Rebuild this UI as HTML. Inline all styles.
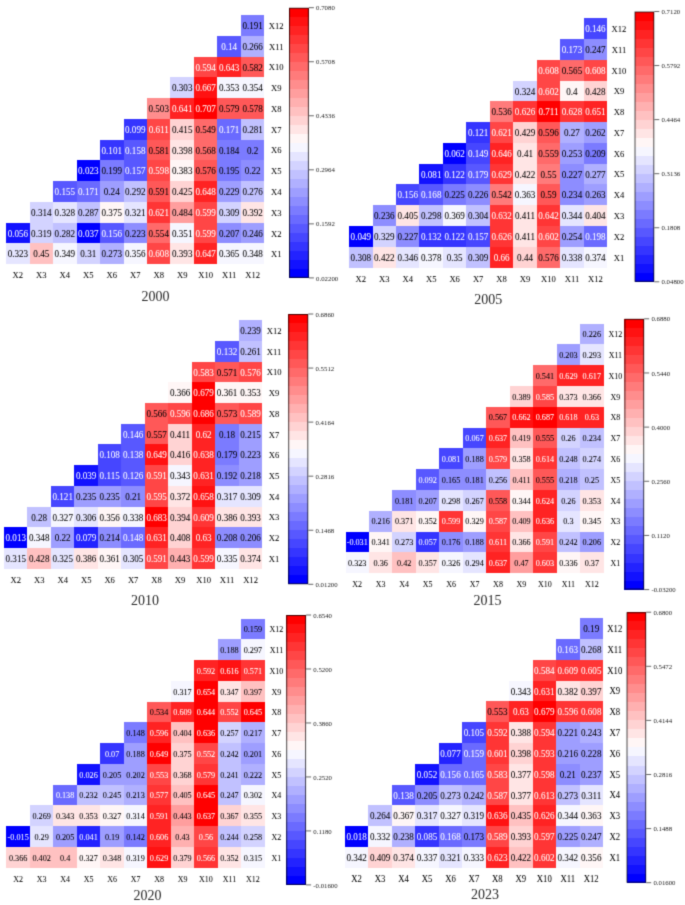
<!DOCTYPE html>
<html><head><meta charset="utf-8"><style>
html,body{margin:0;padding:0;background:#fff;}
body{width:685px;height:905px;overflow:hidden;font-family:"Liberation Serif",serif;}
svg{display:block;}
</style></head><body>
<svg width="685" height="905" viewBox="0 0 685 905"><defs><filter id="bl" x="0" y="0" width="100%" height="100%" filterUnits="userSpaceOnUse" color-interpolation-filters="sRGB"><feConvolveMatrix order="3" kernelMatrix="1 5.0 1 5.0 25.0 5.0 1 5.0 1" preserveAlpha="true" edgeMode="duplicate"/></filter></defs><g filter="url(#bl)"><rect width="685" height="905" fill="#fff"/><g shape-rendering="crispEdges"><rect x="240.90" y="15.10" width="23.48" height="20.76" fill="#7b7bff"/><rect x="217.42" y="35.86" width="23.48" height="20.76" fill="#5858ff"/><rect x="240.90" y="35.86" width="23.48" height="20.76" fill="#b0b0ff"/><rect x="193.94" y="56.62" width="23.48" height="20.76" fill="#ff4646"/><rect x="217.42" y="56.62" width="23.48" height="20.76" fill="#ff2323"/><rect x="240.90" y="56.62" width="23.48" height="20.76" fill="#ff5858"/><rect x="170.46" y="77.38" width="23.48" height="20.76" fill="#d3d3ff"/><rect x="193.94" y="77.38" width="23.48" height="20.76" fill="#ff1212"/><rect x="217.42" y="77.38" width="23.48" height="20.76" fill="#f6f6ff"/><rect x="240.90" y="77.38" width="23.48" height="20.76" fill="#f6f6ff"/><rect x="146.98" y="98.14" width="23.48" height="20.76" fill="#ff8d8d"/><rect x="170.46" y="98.14" width="23.48" height="20.76" fill="#ff2323"/><rect x="193.94" y="98.14" width="23.48" height="20.76" fill="#ff0000"/><rect x="217.42" y="98.14" width="23.48" height="20.76" fill="#ff5858"/><rect x="240.90" y="98.14" width="23.48" height="20.76" fill="#ff5858"/><rect x="123.50" y="118.90" width="23.48" height="20.76" fill="#3535ff"/><rect x="146.98" y="118.90" width="23.48" height="20.76" fill="#ff4646"/><rect x="170.46" y="118.90" width="23.48" height="20.76" fill="#ffd3d3"/><rect x="193.94" y="118.90" width="23.48" height="20.76" fill="#ff6a6a"/><rect x="217.42" y="118.90" width="23.48" height="20.76" fill="#6a6aff"/><rect x="240.90" y="118.90" width="23.48" height="20.76" fill="#c1c1ff"/><rect x="100.02" y="139.66" width="23.48" height="20.76" fill="#3535ff"/><rect x="123.50" y="139.66" width="23.48" height="20.76" fill="#5858ff"/><rect x="146.98" y="139.66" width="23.48" height="20.76" fill="#ff5858"/><rect x="170.46" y="139.66" width="23.48" height="20.76" fill="#ffe5e5"/><rect x="193.94" y="139.66" width="23.48" height="20.76" fill="#ff6a6a"/><rect x="217.42" y="139.66" width="23.48" height="20.76" fill="#7b7bff"/><rect x="240.90" y="139.66" width="23.48" height="20.76" fill="#7b7bff"/><rect x="76.54" y="160.42" width="23.48" height="20.76" fill="#0000ff"/><rect x="100.02" y="160.42" width="23.48" height="20.76" fill="#7b7bff"/><rect x="123.50" y="160.42" width="23.48" height="20.76" fill="#5858ff"/><rect x="146.98" y="160.42" width="23.48" height="20.76" fill="#ff4646"/><rect x="170.46" y="160.42" width="23.48" height="20.76" fill="#fff6f6"/><rect x="193.94" y="160.42" width="23.48" height="20.76" fill="#ff5858"/><rect x="217.42" y="160.42" width="23.48" height="20.76" fill="#7b7bff"/><rect x="240.90" y="160.42" width="23.48" height="20.76" fill="#8d8dff"/><rect x="53.06" y="181.18" width="23.48" height="20.76" fill="#5858ff"/><rect x="76.54" y="181.18" width="23.48" height="20.76" fill="#6a6aff"/><rect x="100.02" y="181.18" width="23.48" height="20.76" fill="#9e9eff"/><rect x="123.50" y="181.18" width="23.48" height="20.76" fill="#c1c1ff"/><rect x="146.98" y="181.18" width="23.48" height="20.76" fill="#ff5858"/><rect x="170.46" y="181.18" width="23.48" height="20.76" fill="#ffd3d3"/><rect x="193.94" y="181.18" width="23.48" height="20.76" fill="#ff2323"/><rect x="217.42" y="181.18" width="23.48" height="20.76" fill="#9e9eff"/><rect x="240.90" y="181.18" width="23.48" height="20.76" fill="#c1c1ff"/><rect x="29.58" y="201.94" width="23.48" height="20.76" fill="#d3d3ff"/><rect x="53.06" y="201.94" width="23.48" height="20.76" fill="#e5e5ff"/><rect x="76.54" y="201.94" width="23.48" height="20.76" fill="#c1c1ff"/><rect x="100.02" y="201.94" width="23.48" height="20.76" fill="#fff6f6"/><rect x="123.50" y="201.94" width="23.48" height="20.76" fill="#e5e5ff"/><rect x="146.98" y="201.94" width="23.48" height="20.76" fill="#ff3535"/><rect x="170.46" y="201.94" width="23.48" height="20.76" fill="#ff9e9e"/><rect x="193.94" y="201.94" width="23.48" height="20.76" fill="#ff4646"/><rect x="217.42" y="201.94" width="23.48" height="20.76" fill="#d3d3ff"/><rect x="240.90" y="201.94" width="23.48" height="20.76" fill="#ffe5e5"/><rect x="6.10" y="222.70" width="23.48" height="20.76" fill="#1212ff"/><rect x="29.58" y="222.70" width="23.48" height="20.76" fill="#d3d3ff"/><rect x="53.06" y="222.70" width="23.48" height="20.76" fill="#c1c1ff"/><rect x="76.54" y="222.70" width="23.48" height="20.76" fill="#0000ff"/><rect x="100.02" y="222.70" width="23.48" height="20.76" fill="#5858ff"/><rect x="123.50" y="222.70" width="23.48" height="20.76" fill="#8d8dff"/><rect x="146.98" y="222.70" width="23.48" height="20.76" fill="#ff6a6a"/><rect x="170.46" y="222.70" width="23.48" height="20.76" fill="#f6f6ff"/><rect x="193.94" y="222.70" width="23.48" height="20.76" fill="#ff4646"/><rect x="217.42" y="222.70" width="23.48" height="20.76" fill="#8d8dff"/><rect x="240.90" y="222.70" width="23.48" height="20.76" fill="#9e9eff"/><rect x="6.10" y="243.46" width="23.48" height="20.76" fill="#e5e5ff"/><rect x="29.58" y="243.46" width="23.48" height="20.76" fill="#ffc1c1"/><rect x="53.06" y="243.46" width="23.48" height="20.76" fill="#f6f6ff"/><rect x="76.54" y="243.46" width="23.48" height="20.76" fill="#d3d3ff"/><rect x="100.02" y="243.46" width="23.48" height="20.76" fill="#b0b0ff"/><rect x="123.50" y="243.46" width="23.48" height="20.76" fill="#f6f6ff"/><rect x="146.98" y="243.46" width="23.48" height="20.76" fill="#ff4646"/><rect x="170.46" y="243.46" width="23.48" height="20.76" fill="#ffe5e5"/><rect x="193.94" y="243.46" width="23.48" height="20.76" fill="#ff2323"/><rect x="217.42" y="243.46" width="23.48" height="20.76" fill="#f6f6ff"/><rect x="240.90" y="243.46" width="23.48" height="20.76" fill="#f6f6ff"/></g><g font-family="Liberation Serif" text-anchor="middle" stroke-width="0.05"><text transform="translate(252.64,29.09) scale(1,1.07)" fill="#000" stroke="#000" font-size="9.1">0.191</text><text transform="translate(229.16,49.85) scale(1,1.07)" fill="#fff" stroke="#fff" font-size="9.1">0.14</text><text transform="translate(252.64,49.85) scale(1,1.07)" fill="#000" stroke="#000" font-size="9.1">0.266</text><text transform="translate(205.68,70.61) scale(1,1.07)" fill="#fff" stroke="#fff" font-size="9.1">0.594</text><text transform="translate(229.16,70.61) scale(1,1.07)" fill="#fff" stroke="#fff" font-size="9.1">0.643</text><text transform="translate(252.64,70.61) scale(1,1.07)" fill="#000" stroke="#000" font-size="9.1">0.582</text><text transform="translate(182.20,91.37) scale(1,1.07)" fill="#000" stroke="#000" font-size="9.1">0.303</text><text transform="translate(205.68,91.37) scale(1,1.07)" fill="#fff" stroke="#fff" font-size="9.1">0.667</text><text transform="translate(229.16,91.37) scale(1,1.07)" fill="#000" stroke="#000" font-size="9.1">0.353</text><text transform="translate(252.64,91.37) scale(1,1.07)" fill="#000" stroke="#000" font-size="9.1">0.354</text><text transform="translate(158.72,112.13) scale(1,1.07)" fill="#000" stroke="#000" font-size="9.1">0.503</text><text transform="translate(182.20,112.13) scale(1,1.07)" fill="#fff" stroke="#fff" font-size="9.1">0.641</text><text transform="translate(205.68,112.13) scale(1,1.07)" fill="#fff" stroke="#fff" font-size="9.1">0.707</text><text transform="translate(229.16,112.13) scale(1,1.07)" fill="#000" stroke="#000" font-size="9.1">0.579</text><text transform="translate(252.64,112.13) scale(1,1.07)" fill="#000" stroke="#000" font-size="9.1">0.578</text><text transform="translate(135.24,132.89) scale(1,1.07)" fill="#fff" stroke="#fff" font-size="9.1">0.099</text><text transform="translate(158.72,132.89) scale(1,1.07)" fill="#fff" stroke="#fff" font-size="9.1">0.611</text><text transform="translate(182.20,132.89) scale(1,1.07)" fill="#000" stroke="#000" font-size="9.1">0.415</text><text transform="translate(205.68,132.89) scale(1,1.07)" fill="#000" stroke="#000" font-size="9.1">0.549</text><text transform="translate(229.16,132.89) scale(1,1.07)" fill="#fff" stroke="#fff" font-size="9.1">0.171</text><text transform="translate(252.64,132.89) scale(1,1.07)" fill="#000" stroke="#000" font-size="9.1">0.281</text><text transform="translate(111.76,153.65) scale(1,1.07)" fill="#fff" stroke="#fff" font-size="9.1">0.101</text><text transform="translate(135.24,153.65) scale(1,1.07)" fill="#fff" stroke="#fff" font-size="9.1">0.158</text><text transform="translate(158.72,153.65) scale(1,1.07)" fill="#000" stroke="#000" font-size="9.1">0.581</text><text transform="translate(182.20,153.65) scale(1,1.07)" fill="#000" stroke="#000" font-size="9.1">0.398</text><text transform="translate(205.68,153.65) scale(1,1.07)" fill="#000" stroke="#000" font-size="9.1">0.568</text><text transform="translate(229.16,153.65) scale(1,1.07)" fill="#000" stroke="#000" font-size="9.1">0.184</text><text transform="translate(252.64,153.65) scale(1,1.07)" fill="#000" stroke="#000" font-size="9.1">0.2</text><text transform="translate(88.28,174.41) scale(1,1.07)" fill="#fff" stroke="#fff" font-size="9.1">0.023</text><text transform="translate(111.76,174.41) scale(1,1.07)" fill="#000" stroke="#000" font-size="9.1">0.199</text><text transform="translate(135.24,174.41) scale(1,1.07)" fill="#fff" stroke="#fff" font-size="9.1">0.157</text><text transform="translate(158.72,174.41) scale(1,1.07)" fill="#fff" stroke="#fff" font-size="9.1">0.598</text><text transform="translate(182.20,174.41) scale(1,1.07)" fill="#000" stroke="#000" font-size="9.1">0.383</text><text transform="translate(205.68,174.41) scale(1,1.07)" fill="#000" stroke="#000" font-size="9.1">0.576</text><text transform="translate(229.16,174.41) scale(1,1.07)" fill="#000" stroke="#000" font-size="9.1">0.195</text><text transform="translate(252.64,174.41) scale(1,1.07)" fill="#000" stroke="#000" font-size="9.1">0.22</text><text transform="translate(64.80,195.17) scale(1,1.07)" fill="#fff" stroke="#fff" font-size="9.1">0.155</text><text transform="translate(88.28,195.17) scale(1,1.07)" fill="#fff" stroke="#fff" font-size="9.1">0.171</text><text transform="translate(111.76,195.17) scale(1,1.07)" fill="#000" stroke="#000" font-size="9.1">0.24</text><text transform="translate(135.24,195.17) scale(1,1.07)" fill="#000" stroke="#000" font-size="9.1">0.292</text><text transform="translate(158.72,195.17) scale(1,1.07)" fill="#000" stroke="#000" font-size="9.1">0.591</text><text transform="translate(182.20,195.17) scale(1,1.07)" fill="#000" stroke="#000" font-size="9.1">0.425</text><text transform="translate(205.68,195.17) scale(1,1.07)" fill="#fff" stroke="#fff" font-size="9.1">0.648</text><text transform="translate(229.16,195.17) scale(1,1.07)" fill="#000" stroke="#000" font-size="9.1">0.229</text><text transform="translate(252.64,195.17) scale(1,1.07)" fill="#000" stroke="#000" font-size="9.1">0.276</text><text transform="translate(41.32,215.93) scale(1,1.07)" fill="#000" stroke="#000" font-size="9.1">0.314</text><text transform="translate(64.80,215.93) scale(1,1.07)" fill="#000" stroke="#000" font-size="9.1">0.328</text><text transform="translate(88.28,215.93) scale(1,1.07)" fill="#000" stroke="#000" font-size="9.1">0.287</text><text transform="translate(111.76,215.93) scale(1,1.07)" fill="#000" stroke="#000" font-size="9.1">0.375</text><text transform="translate(135.24,215.93) scale(1,1.07)" fill="#000" stroke="#000" font-size="9.1">0.321</text><text transform="translate(158.72,215.93) scale(1,1.07)" fill="#fff" stroke="#fff" font-size="9.1">0.621</text><text transform="translate(182.20,215.93) scale(1,1.07)" fill="#000" stroke="#000" font-size="9.1">0.484</text><text transform="translate(205.68,215.93) scale(1,1.07)" fill="#fff" stroke="#fff" font-size="9.1">0.599</text><text transform="translate(229.16,215.93) scale(1,1.07)" fill="#000" stroke="#000" font-size="9.1">0.309</text><text transform="translate(252.64,215.93) scale(1,1.07)" fill="#000" stroke="#000" font-size="9.1">0.392</text><text transform="translate(17.84,236.69) scale(1,1.07)" fill="#fff" stroke="#fff" font-size="9.1">0.056</text><text transform="translate(41.32,236.69) scale(1,1.07)" fill="#000" stroke="#000" font-size="9.1">0.319</text><text transform="translate(64.80,236.69) scale(1,1.07)" fill="#000" stroke="#000" font-size="9.1">0.282</text><text transform="translate(88.28,236.69) scale(1,1.07)" fill="#fff" stroke="#fff" font-size="9.1">0.037</text><text transform="translate(111.76,236.69) scale(1,1.07)" fill="#fff" stroke="#fff" font-size="9.1">0.156</text><text transform="translate(135.24,236.69) scale(1,1.07)" fill="#000" stroke="#000" font-size="9.1">0.223</text><text transform="translate(158.72,236.69) scale(1,1.07)" fill="#000" stroke="#000" font-size="9.1">0.554</text><text transform="translate(182.20,236.69) scale(1,1.07)" fill="#000" stroke="#000" font-size="9.1">0.351</text><text transform="translate(205.68,236.69) scale(1,1.07)" fill="#fff" stroke="#fff" font-size="9.1">0.599</text><text transform="translate(229.16,236.69) scale(1,1.07)" fill="#000" stroke="#000" font-size="9.1">0.207</text><text transform="translate(252.64,236.69) scale(1,1.07)" fill="#000" stroke="#000" font-size="9.1">0.246</text><text transform="translate(17.84,257.45) scale(1,1.07)" fill="#000" stroke="#000" font-size="9.1">0.323</text><text transform="translate(41.32,257.45) scale(1,1.07)" fill="#000" stroke="#000" font-size="9.1">0.45</text><text transform="translate(64.80,257.45) scale(1,1.07)" fill="#000" stroke="#000" font-size="9.1">0.349</text><text transform="translate(88.28,257.45) scale(1,1.07)" fill="#000" stroke="#000" font-size="9.1">0.31</text><text transform="translate(111.76,257.45) scale(1,1.07)" fill="#000" stroke="#000" font-size="9.1">0.273</text><text transform="translate(135.24,257.45) scale(1,1.07)" fill="#000" stroke="#000" font-size="9.1">0.356</text><text transform="translate(158.72,257.45) scale(1,1.07)" fill="#fff" stroke="#fff" font-size="9.1">0.608</text><text transform="translate(182.20,257.45) scale(1,1.07)" fill="#000" stroke="#000" font-size="9.1">0.393</text><text transform="translate(205.68,257.45) scale(1,1.07)" fill="#fff" stroke="#fff" font-size="9.1">0.647</text><text transform="translate(229.16,257.45) scale(1,1.07)" fill="#000" stroke="#000" font-size="9.1">0.365</text><text transform="translate(252.64,257.45) scale(1,1.07)" fill="#000" stroke="#000" font-size="9.1">0.348</text></g><g font-family="Liberation Serif" text-anchor="middle" font-size="8.6" fill="#000" stroke="#000" stroke-width="0.03"><text transform="translate(276.18,28.91) scale(1,1.07)">X12</text><text transform="translate(276.18,49.67) scale(1,1.07)">X11</text><text transform="translate(276.18,70.43) scale(1,1.07)">X10</text><text transform="translate(276.18,91.19) scale(1,1.07)">X9</text><text transform="translate(276.18,111.95) scale(1,1.07)">X8</text><text transform="translate(276.18,132.71) scale(1,1.07)">X7</text><text transform="translate(276.18,153.47) scale(1,1.07)">X6</text><text transform="translate(276.18,174.23) scale(1,1.07)">X5</text><text transform="translate(276.18,194.99) scale(1,1.07)">X4</text><text transform="translate(276.18,215.75) scale(1,1.07)">X3</text><text transform="translate(276.18,236.51) scale(1,1.07)">X2</text><text transform="translate(276.18,257.27) scale(1,1.07)">X1</text><text transform="translate(17.84,278.45) scale(1,1.07)">X2</text><text transform="translate(41.32,278.45) scale(1,1.07)">X3</text><text transform="translate(64.80,278.45) scale(1,1.07)">X4</text><text transform="translate(88.28,278.45) scale(1,1.07)">X5</text><text transform="translate(111.76,278.45) scale(1,1.07)">X6</text><text transform="translate(135.24,278.45) scale(1,1.07)">X7</text><text transform="translate(158.72,278.45) scale(1,1.07)">X8</text><text transform="translate(182.20,278.45) scale(1,1.07)">X9</text><text transform="translate(205.68,278.45) scale(1,1.07)">X10</text><text transform="translate(229.16,278.45) scale(1,1.07)">X11</text><text transform="translate(252.64,278.45) scale(1,1.07)">X12</text></g><g shape-rendering="crispEdges"><rect x="289.00" y="268.89" width="19.90" height="9.03" fill="#0000ff"/><rect x="289.00" y="259.89" width="19.90" height="9.03" fill="#1212ff"/><rect x="289.00" y="250.88" width="19.90" height="9.03" fill="#2323ff"/><rect x="289.00" y="241.87" width="19.90" height="9.03" fill="#3535ff"/><rect x="289.00" y="232.87" width="19.90" height="9.03" fill="#4646ff"/><rect x="289.00" y="223.86" width="19.90" height="9.03" fill="#5858ff"/><rect x="289.00" y="214.85" width="19.90" height="9.03" fill="#6a6aff"/><rect x="289.00" y="205.85" width="19.90" height="9.03" fill="#7b7bff"/><rect x="289.00" y="196.84" width="19.90" height="9.03" fill="#8d8dff"/><rect x="289.00" y="187.83" width="19.90" height="9.03" fill="#9e9eff"/><rect x="289.00" y="178.83" width="19.90" height="9.03" fill="#b0b0ff"/><rect x="289.00" y="169.82" width="19.90" height="9.03" fill="#c1c1ff"/><rect x="289.00" y="160.81" width="19.90" height="9.03" fill="#d3d3ff"/><rect x="289.00" y="151.81" width="19.90" height="9.03" fill="#e5e5ff"/><rect x="289.00" y="142.80" width="19.90" height="9.03" fill="#f6f6ff"/><rect x="289.00" y="133.79" width="19.90" height="9.03" fill="#fff6f6"/><rect x="289.00" y="124.79" width="19.90" height="9.03" fill="#ffe5e5"/><rect x="289.00" y="115.78" width="19.90" height="9.03" fill="#ffd3d3"/><rect x="289.00" y="106.77" width="19.90" height="9.03" fill="#ffc1c1"/><rect x="289.00" y="97.77" width="19.90" height="9.03" fill="#ffb0b0"/><rect x="289.00" y="88.76" width="19.90" height="9.03" fill="#ff9e9e"/><rect x="289.00" y="79.75" width="19.90" height="9.03" fill="#ff8d8d"/><rect x="289.00" y="70.75" width="19.90" height="9.03" fill="#ff7b7b"/><rect x="289.00" y="61.74" width="19.90" height="9.03" fill="#ff6a6a"/><rect x="289.00" y="52.73" width="19.90" height="9.03" fill="#ff5858"/><rect x="289.00" y="43.73" width="19.90" height="9.03" fill="#ff4646"/><rect x="289.00" y="34.72" width="19.90" height="9.03" fill="#ff3535"/><rect x="289.00" y="25.71" width="19.90" height="9.03" fill="#ff2323"/><rect x="289.00" y="16.71" width="19.90" height="9.03" fill="#ff1212"/><rect x="289.00" y="7.70" width="19.90" height="9.03" fill="#ff0000"/></g><rect x="289.50" y="8.20" width="18.90" height="269.20" fill="none" stroke="#000" stroke-opacity="0.7" stroke-width="1"/><g font-family="Liberation Serif" font-size="6.8" fill="#222"><line x1="308.90" y1="7.70" x2="313.90" y2="7.70" stroke="#555" stroke-width="0.9"/><text transform="translate(316.10,10.31) scale(1,1.0)">0.7080</text><line x1="308.90" y1="61.74" x2="313.90" y2="61.74" stroke="#555" stroke-width="0.9"/><text transform="translate(316.10,64.35) scale(1,1.0)">0.5708</text><line x1="308.90" y1="115.78" x2="313.90" y2="115.78" stroke="#555" stroke-width="0.9"/><text transform="translate(316.10,118.39) scale(1,1.0)">0.4336</text><line x1="308.90" y1="169.82" x2="313.90" y2="169.82" stroke="#555" stroke-width="0.9"/><text transform="translate(316.10,172.43) scale(1,1.0)">0.2964</text><line x1="308.90" y1="223.86" x2="313.90" y2="223.86" stroke="#555" stroke-width="0.9"/><text transform="translate(316.10,226.47) scale(1,1.0)">0.1592</text><line x1="308.90" y1="277.90" x2="313.90" y2="277.90" stroke="#555" stroke-width="0.9"/><text transform="translate(316.10,280.51) scale(1,1.0)">0.02200</text></g><text x="155.40" y="300.86" font-family="Liberation Serif" font-size="14" text-anchor="middle" fill="#2a2a2a">2000</text><g shape-rendering="crispEdges"><rect x="583.70" y="18.20" width="23.46" height="20.78" fill="#4646ff"/><rect x="560.24" y="38.98" width="23.46" height="20.78" fill="#5858ff"/><rect x="583.70" y="38.98" width="23.46" height="20.78" fill="#8d8dff"/><rect x="536.78" y="59.76" width="23.46" height="20.78" fill="#ff4646"/><rect x="560.24" y="59.76" width="23.46" height="20.78" fill="#ff6a6a"/><rect x="583.70" y="59.76" width="23.46" height="20.78" fill="#ff4646"/><rect x="513.32" y="80.54" width="23.46" height="20.78" fill="#d3d3ff"/><rect x="536.78" y="80.54" width="23.46" height="20.78" fill="#ff4646"/><rect x="560.24" y="80.54" width="23.46" height="20.78" fill="#fff6f6"/><rect x="583.70" y="80.54" width="23.46" height="20.78" fill="#ffd3d3"/><rect x="489.86" y="101.32" width="23.46" height="20.78" fill="#ff7b7b"/><rect x="513.32" y="101.32" width="23.46" height="20.78" fill="#ff3535"/><rect x="536.78" y="101.32" width="23.46" height="20.78" fill="#ff0000"/><rect x="560.24" y="101.32" width="23.46" height="20.78" fill="#ff3535"/><rect x="583.70" y="101.32" width="23.46" height="20.78" fill="#ff2323"/><rect x="466.40" y="122.10" width="23.46" height="20.78" fill="#3535ff"/><rect x="489.86" y="122.10" width="23.46" height="20.78" fill="#ff4646"/><rect x="513.32" y="122.10" width="23.46" height="20.78" fill="#ffd3d3"/><rect x="536.78" y="122.10" width="23.46" height="20.78" fill="#ff5858"/><rect x="560.24" y="122.10" width="23.46" height="20.78" fill="#b0b0ff"/><rect x="583.70" y="122.10" width="23.46" height="20.78" fill="#9e9eff"/><rect x="442.94" y="142.88" width="23.46" height="20.78" fill="#0000ff"/><rect x="466.40" y="142.88" width="23.46" height="20.78" fill="#4646ff"/><rect x="489.86" y="142.88" width="23.46" height="20.78" fill="#ff2323"/><rect x="513.32" y="142.88" width="23.46" height="20.78" fill="#ffe5e5"/><rect x="536.78" y="142.88" width="23.46" height="20.78" fill="#ff6a6a"/><rect x="560.24" y="142.88" width="23.46" height="20.78" fill="#9e9eff"/><rect x="583.70" y="142.88" width="23.46" height="20.78" fill="#7b7bff"/><rect x="419.48" y="163.66" width="23.46" height="20.78" fill="#1212ff"/><rect x="442.94" y="163.66" width="23.46" height="20.78" fill="#3535ff"/><rect x="466.40" y="163.66" width="23.46" height="20.78" fill="#5858ff"/><rect x="489.86" y="163.66" width="23.46" height="20.78" fill="#ff3535"/><rect x="513.32" y="163.66" width="23.46" height="20.78" fill="#ffe5e5"/><rect x="536.78" y="163.66" width="23.46" height="20.78" fill="#ff7b7b"/><rect x="560.24" y="163.66" width="23.46" height="20.78" fill="#8d8dff"/><rect x="583.70" y="163.66" width="23.46" height="20.78" fill="#b0b0ff"/><rect x="396.02" y="184.44" width="23.46" height="20.78" fill="#4646ff"/><rect x="419.48" y="184.44" width="23.46" height="20.78" fill="#5858ff"/><rect x="442.94" y="184.44" width="23.46" height="20.78" fill="#7b7bff"/><rect x="466.40" y="184.44" width="23.46" height="20.78" fill="#8d8dff"/><rect x="489.86" y="184.44" width="23.46" height="20.78" fill="#ff7b7b"/><rect x="513.32" y="184.44" width="23.46" height="20.78" fill="#f6f6ff"/><rect x="536.78" y="184.44" width="23.46" height="20.78" fill="#ff5858"/><rect x="560.24" y="184.44" width="23.46" height="20.78" fill="#8d8dff"/><rect x="583.70" y="184.44" width="23.46" height="20.78" fill="#9e9eff"/><rect x="372.56" y="205.22" width="23.46" height="20.78" fill="#8d8dff"/><rect x="396.02" y="205.22" width="23.46" height="20.78" fill="#ffe5e5"/><rect x="419.48" y="205.22" width="23.46" height="20.78" fill="#c1c1ff"/><rect x="442.94" y="205.22" width="23.46" height="20.78" fill="#f6f6ff"/><rect x="466.40" y="205.22" width="23.46" height="20.78" fill="#c1c1ff"/><rect x="489.86" y="205.22" width="23.46" height="20.78" fill="#ff3535"/><rect x="513.32" y="205.22" width="23.46" height="20.78" fill="#ffe5e5"/><rect x="536.78" y="205.22" width="23.46" height="20.78" fill="#ff3535"/><rect x="560.24" y="205.22" width="23.46" height="20.78" fill="#e5e5ff"/><rect x="583.70" y="205.22" width="23.46" height="20.78" fill="#ffe5e5"/><rect x="349.10" y="226.00" width="23.46" height="20.78" fill="#0000ff"/><rect x="372.56" y="226.00" width="23.46" height="20.78" fill="#d3d3ff"/><rect x="396.02" y="226.00" width="23.46" height="20.78" fill="#8d8dff"/><rect x="419.48" y="226.00" width="23.46" height="20.78" fill="#3535ff"/><rect x="442.94" y="226.00" width="23.46" height="20.78" fill="#3535ff"/><rect x="466.40" y="226.00" width="23.46" height="20.78" fill="#4646ff"/><rect x="489.86" y="226.00" width="23.46" height="20.78" fill="#ff3535"/><rect x="513.32" y="226.00" width="23.46" height="20.78" fill="#ffe5e5"/><rect x="536.78" y="226.00" width="23.46" height="20.78" fill="#ff4646"/><rect x="560.24" y="226.00" width="23.46" height="20.78" fill="#9e9eff"/><rect x="583.70" y="226.00" width="23.46" height="20.78" fill="#6a6aff"/><rect x="349.10" y="246.78" width="23.46" height="20.78" fill="#c1c1ff"/><rect x="372.56" y="246.78" width="23.46" height="20.78" fill="#ffe5e5"/><rect x="396.02" y="246.78" width="23.46" height="20.78" fill="#e5e5ff"/><rect x="419.48" y="246.78" width="23.46" height="20.78" fill="#f6f6ff"/><rect x="442.94" y="246.78" width="23.46" height="20.78" fill="#e5e5ff"/><rect x="466.40" y="246.78" width="23.46" height="20.78" fill="#c1c1ff"/><rect x="489.86" y="246.78" width="23.46" height="20.78" fill="#ff2323"/><rect x="513.32" y="246.78" width="23.46" height="20.78" fill="#ffd3d3"/><rect x="536.78" y="246.78" width="23.46" height="20.78" fill="#ff6a6a"/><rect x="560.24" y="246.78" width="23.46" height="20.78" fill="#e5e5ff"/><rect x="583.70" y="246.78" width="23.46" height="20.78" fill="#f6f6ff"/></g><g font-family="Liberation Serif" text-anchor="middle" stroke-width="0.05"><text transform="translate(595.43,32.20) scale(1,1.07)" fill="#fff" stroke="#fff" font-size="9.1">0.146</text><text transform="translate(571.97,52.98) scale(1,1.07)" fill="#fff" stroke="#fff" font-size="9.1">0.173</text><text transform="translate(595.43,52.98) scale(1,1.07)" fill="#000" stroke="#000" font-size="9.1">0.247</text><text transform="translate(548.51,73.76) scale(1,1.07)" fill="#fff" stroke="#fff" font-size="9.1">0.608</text><text transform="translate(571.97,73.76) scale(1,1.07)" fill="#000" stroke="#000" font-size="9.1">0.565</text><text transform="translate(595.43,73.76) scale(1,1.07)" fill="#fff" stroke="#fff" font-size="9.1">0.608</text><text transform="translate(525.05,94.54) scale(1,1.07)" fill="#000" stroke="#000" font-size="9.1">0.324</text><text transform="translate(548.51,94.54) scale(1,1.07)" fill="#fff" stroke="#fff" font-size="9.1">0.602</text><text transform="translate(571.97,94.54) scale(1,1.07)" fill="#000" stroke="#000" font-size="9.1">0.4</text><text transform="translate(595.43,94.54) scale(1,1.07)" fill="#000" stroke="#000" font-size="9.1">0.428</text><text transform="translate(501.59,115.32) scale(1,1.07)" fill="#000" stroke="#000" font-size="9.1">0.536</text><text transform="translate(525.05,115.32) scale(1,1.07)" fill="#fff" stroke="#fff" font-size="9.1">0.626</text><text transform="translate(548.51,115.32) scale(1,1.07)" fill="#fff" stroke="#fff" font-size="9.1">0.711</text><text transform="translate(571.97,115.32) scale(1,1.07)" fill="#fff" stroke="#fff" font-size="9.1">0.628</text><text transform="translate(595.43,115.32) scale(1,1.07)" fill="#fff" stroke="#fff" font-size="9.1">0.651</text><text transform="translate(478.13,136.10) scale(1,1.07)" fill="#fff" stroke="#fff" font-size="9.1">0.121</text><text transform="translate(501.59,136.10) scale(1,1.07)" fill="#fff" stroke="#fff" font-size="9.1">0.621</text><text transform="translate(525.05,136.10) scale(1,1.07)" fill="#000" stroke="#000" font-size="9.1">0.429</text><text transform="translate(548.51,136.10) scale(1,1.07)" fill="#000" stroke="#000" font-size="9.1">0.596</text><text transform="translate(571.97,136.10) scale(1,1.07)" fill="#000" stroke="#000" font-size="9.1">0.27</text><text transform="translate(595.43,136.10) scale(1,1.07)" fill="#000" stroke="#000" font-size="9.1">0.262</text><text transform="translate(454.67,156.88) scale(1,1.07)" fill="#fff" stroke="#fff" font-size="9.1">0.062</text><text transform="translate(478.13,156.88) scale(1,1.07)" fill="#fff" stroke="#fff" font-size="9.1">0.149</text><text transform="translate(501.59,156.88) scale(1,1.07)" fill="#fff" stroke="#fff" font-size="9.1">0.646</text><text transform="translate(525.05,156.88) scale(1,1.07)" fill="#000" stroke="#000" font-size="9.1">0.41</text><text transform="translate(548.51,156.88) scale(1,1.07)" fill="#000" stroke="#000" font-size="9.1">0.559</text><text transform="translate(571.97,156.88) scale(1,1.07)" fill="#000" stroke="#000" font-size="9.1">0.253</text><text transform="translate(595.43,156.88) scale(1,1.07)" fill="#000" stroke="#000" font-size="9.1">0.209</text><text transform="translate(431.21,177.66) scale(1,1.07)" fill="#fff" stroke="#fff" font-size="9.1">0.081</text><text transform="translate(454.67,177.66) scale(1,1.07)" fill="#fff" stroke="#fff" font-size="9.1">0.122</text><text transform="translate(478.13,177.66) scale(1,1.07)" fill="#fff" stroke="#fff" font-size="9.1">0.179</text><text transform="translate(501.59,177.66) scale(1,1.07)" fill="#fff" stroke="#fff" font-size="9.1">0.629</text><text transform="translate(525.05,177.66) scale(1,1.07)" fill="#000" stroke="#000" font-size="9.1">0.422</text><text transform="translate(548.51,177.66) scale(1,1.07)" fill="#000" stroke="#000" font-size="9.1">0.55</text><text transform="translate(571.97,177.66) scale(1,1.07)" fill="#000" stroke="#000" font-size="9.1">0.227</text><text transform="translate(595.43,177.66) scale(1,1.07)" fill="#000" stroke="#000" font-size="9.1">0.277</text><text transform="translate(407.75,198.44) scale(1,1.07)" fill="#fff" stroke="#fff" font-size="9.1">0.156</text><text transform="translate(431.21,198.44) scale(1,1.07)" fill="#fff" stroke="#fff" font-size="9.1">0.168</text><text transform="translate(454.67,198.44) scale(1,1.07)" fill="#000" stroke="#000" font-size="9.1">0.225</text><text transform="translate(478.13,198.44) scale(1,1.07)" fill="#000" stroke="#000" font-size="9.1">0.226</text><text transform="translate(501.59,198.44) scale(1,1.07)" fill="#000" stroke="#000" font-size="9.1">0.542</text><text transform="translate(525.05,198.44) scale(1,1.07)" fill="#000" stroke="#000" font-size="9.1">0.363</text><text transform="translate(548.51,198.44) scale(1,1.07)" fill="#000" stroke="#000" font-size="9.1">0.59</text><text transform="translate(571.97,198.44) scale(1,1.07)" fill="#000" stroke="#000" font-size="9.1">0.234</text><text transform="translate(595.43,198.44) scale(1,1.07)" fill="#000" stroke="#000" font-size="9.1">0.263</text><text transform="translate(384.29,219.22) scale(1,1.07)" fill="#000" stroke="#000" font-size="9.1">0.236</text><text transform="translate(407.75,219.22) scale(1,1.07)" fill="#000" stroke="#000" font-size="9.1">0.405</text><text transform="translate(431.21,219.22) scale(1,1.07)" fill="#000" stroke="#000" font-size="9.1">0.298</text><text transform="translate(454.67,219.22) scale(1,1.07)" fill="#000" stroke="#000" font-size="9.1">0.369</text><text transform="translate(478.13,219.22) scale(1,1.07)" fill="#000" stroke="#000" font-size="9.1">0.304</text><text transform="translate(501.59,219.22) scale(1,1.07)" fill="#fff" stroke="#fff" font-size="9.1">0.632</text><text transform="translate(525.05,219.22) scale(1,1.07)" fill="#000" stroke="#000" font-size="9.1">0.411</text><text transform="translate(548.51,219.22) scale(1,1.07)" fill="#fff" stroke="#fff" font-size="9.1">0.642</text><text transform="translate(571.97,219.22) scale(1,1.07)" fill="#000" stroke="#000" font-size="9.1">0.344</text><text transform="translate(595.43,219.22) scale(1,1.07)" fill="#000" stroke="#000" font-size="9.1">0.404</text><text transform="translate(360.83,240.00) scale(1,1.07)" fill="#fff" stroke="#fff" font-size="9.1">0.049</text><text transform="translate(384.29,240.00) scale(1,1.07)" fill="#000" stroke="#000" font-size="9.1">0.329</text><text transform="translate(407.75,240.00) scale(1,1.07)" fill="#000" stroke="#000" font-size="9.1">0.227</text><text transform="translate(431.21,240.00) scale(1,1.07)" fill="#fff" stroke="#fff" font-size="9.1">0.132</text><text transform="translate(454.67,240.00) scale(1,1.07)" fill="#fff" stroke="#fff" font-size="9.1">0.122</text><text transform="translate(478.13,240.00) scale(1,1.07)" fill="#fff" stroke="#fff" font-size="9.1">0.157</text><text transform="translate(501.59,240.00) scale(1,1.07)" fill="#fff" stroke="#fff" font-size="9.1">0.626</text><text transform="translate(525.05,240.00) scale(1,1.07)" fill="#000" stroke="#000" font-size="9.1">0.411</text><text transform="translate(548.51,240.00) scale(1,1.07)" fill="#fff" stroke="#fff" font-size="9.1">0.602</text><text transform="translate(571.97,240.00) scale(1,1.07)" fill="#000" stroke="#000" font-size="9.1">0.254</text><text transform="translate(595.43,240.00) scale(1,1.07)" fill="#fff" stroke="#fff" font-size="9.1">0.198</text><text transform="translate(360.83,260.78) scale(1,1.07)" fill="#000" stroke="#000" font-size="9.1">0.308</text><text transform="translate(384.29,260.78) scale(1,1.07)" fill="#000" stroke="#000" font-size="9.1">0.422</text><text transform="translate(407.75,260.78) scale(1,1.07)" fill="#000" stroke="#000" font-size="9.1">0.346</text><text transform="translate(431.21,260.78) scale(1,1.07)" fill="#000" stroke="#000" font-size="9.1">0.378</text><text transform="translate(454.67,260.78) scale(1,1.07)" fill="#000" stroke="#000" font-size="9.1">0.35</text><text transform="translate(478.13,260.78) scale(1,1.07)" fill="#000" stroke="#000" font-size="9.1">0.309</text><text transform="translate(501.59,260.78) scale(1,1.07)" fill="#fff" stroke="#fff" font-size="9.1">0.66</text><text transform="translate(525.05,260.78) scale(1,1.07)" fill="#000" stroke="#000" font-size="9.1">0.44</text><text transform="translate(548.51,260.78) scale(1,1.07)" fill="#000" stroke="#000" font-size="9.1">0.576</text><text transform="translate(571.97,260.78) scale(1,1.07)" fill="#000" stroke="#000" font-size="9.1">0.338</text><text transform="translate(595.43,260.78) scale(1,1.07)" fill="#000" stroke="#000" font-size="9.1">0.374</text></g><g font-family="Liberation Serif" text-anchor="middle" font-size="8.6" fill="#000" stroke="#000" stroke-width="0.03"><text transform="translate(618.96,32.02) scale(1,1.07)">X12</text><text transform="translate(618.96,52.80) scale(1,1.07)">X11</text><text transform="translate(618.96,73.58) scale(1,1.07)">X10</text><text transform="translate(618.96,94.36) scale(1,1.07)">X9</text><text transform="translate(618.96,115.14) scale(1,1.07)">X8</text><text transform="translate(618.96,135.92) scale(1,1.07)">X7</text><text transform="translate(618.96,156.70) scale(1,1.07)">X6</text><text transform="translate(618.96,177.48) scale(1,1.07)">X5</text><text transform="translate(618.96,198.26) scale(1,1.07)">X4</text><text transform="translate(618.96,219.04) scale(1,1.07)">X3</text><text transform="translate(618.96,239.82) scale(1,1.07)">X2</text><text transform="translate(618.96,260.60) scale(1,1.07)">X1</text><text transform="translate(360.83,281.79) scale(1,1.07)">X2</text><text transform="translate(384.29,281.79) scale(1,1.07)">X3</text><text transform="translate(407.75,281.79) scale(1,1.07)">X4</text><text transform="translate(431.21,281.79) scale(1,1.07)">X5</text><text transform="translate(454.67,281.79) scale(1,1.07)">X6</text><text transform="translate(478.13,281.79) scale(1,1.07)">X7</text><text transform="translate(501.59,281.79) scale(1,1.07)">X8</text><text transform="translate(525.05,281.79) scale(1,1.07)">X9</text><text transform="translate(548.51,281.79) scale(1,1.07)">X10</text><text transform="translate(571.97,281.79) scale(1,1.07)">X11</text><text transform="translate(595.43,281.79) scale(1,1.07)">X12</text></g><g shape-rendering="crispEdges"><rect x="634.50" y="272.79" width="19.80" height="9.03" fill="#0000ff"/><rect x="634.50" y="263.78" width="19.80" height="9.03" fill="#1212ff"/><rect x="634.50" y="254.77" width="19.80" height="9.03" fill="#2323ff"/><rect x="634.50" y="245.76" width="19.80" height="9.03" fill="#3535ff"/><rect x="634.50" y="236.75" width="19.80" height="9.03" fill="#4646ff"/><rect x="634.50" y="227.74" width="19.80" height="9.03" fill="#5858ff"/><rect x="634.50" y="218.73" width="19.80" height="9.03" fill="#6a6aff"/><rect x="634.50" y="209.72" width="19.80" height="9.03" fill="#7b7bff"/><rect x="634.50" y="200.71" width="19.80" height="9.03" fill="#8d8dff"/><rect x="634.50" y="191.70" width="19.80" height="9.03" fill="#9e9eff"/><rect x="634.50" y="182.69" width="19.80" height="9.03" fill="#b0b0ff"/><rect x="634.50" y="173.68" width="19.80" height="9.03" fill="#c1c1ff"/><rect x="634.50" y="164.67" width="19.80" height="9.03" fill="#d3d3ff"/><rect x="634.50" y="155.66" width="19.80" height="9.03" fill="#e5e5ff"/><rect x="634.50" y="146.65" width="19.80" height="9.03" fill="#f6f6ff"/><rect x="634.50" y="137.64" width="19.80" height="9.03" fill="#fff6f6"/><rect x="634.50" y="128.63" width="19.80" height="9.03" fill="#ffe5e5"/><rect x="634.50" y="119.62" width="19.80" height="9.03" fill="#ffd3d3"/><rect x="634.50" y="110.61" width="19.80" height="9.03" fill="#ffc1c1"/><rect x="634.50" y="101.60" width="19.80" height="9.03" fill="#ffb0b0"/><rect x="634.50" y="92.59" width="19.80" height="9.03" fill="#ff9e9e"/><rect x="634.50" y="83.58" width="19.80" height="9.03" fill="#ff8d8d"/><rect x="634.50" y="74.57" width="19.80" height="9.03" fill="#ff7b7b"/><rect x="634.50" y="65.56" width="19.80" height="9.03" fill="#ff6a6a"/><rect x="634.50" y="56.55" width="19.80" height="9.03" fill="#ff5858"/><rect x="634.50" y="47.54" width="19.80" height="9.03" fill="#ff4646"/><rect x="634.50" y="38.53" width="19.80" height="9.03" fill="#ff3535"/><rect x="634.50" y="29.52" width="19.80" height="9.03" fill="#ff2323"/><rect x="634.50" y="20.51" width="19.80" height="9.03" fill="#ff1212"/><rect x="634.50" y="11.50" width="19.80" height="9.03" fill="#ff0000"/></g><rect x="635.00" y="12.00" width="18.80" height="269.30" fill="none" stroke="#000" stroke-opacity="0.7" stroke-width="1"/><g font-family="Liberation Serif" font-size="6.8" fill="#222"><line x1="654.30" y1="11.50" x2="659.30" y2="11.50" stroke="#555" stroke-width="0.9"/><text transform="translate(661.50,14.11) scale(1,1.0)">0.7120</text><line x1="654.30" y1="65.56" x2="659.30" y2="65.56" stroke="#555" stroke-width="0.9"/><text transform="translate(661.50,68.17) scale(1,1.0)">0.5792</text><line x1="654.30" y1="119.62" x2="659.30" y2="119.62" stroke="#555" stroke-width="0.9"/><text transform="translate(661.50,122.23) scale(1,1.0)">0.4464</text><line x1="654.30" y1="173.68" x2="659.30" y2="173.68" stroke="#555" stroke-width="0.9"/><text transform="translate(661.50,176.29) scale(1,1.0)">0.3136</text><line x1="654.30" y1="227.74" x2="659.30" y2="227.74" stroke="#555" stroke-width="0.9"/><text transform="translate(661.50,230.35) scale(1,1.0)">0.1808</text><line x1="654.30" y1="281.80" x2="659.30" y2="281.80" stroke="#555" stroke-width="0.9"/><text transform="translate(661.50,284.41) scale(1,1.0)">0.04800</text></g><text x="488.20" y="304.36" font-family="Liberation Serif" font-size="14" text-anchor="middle" fill="#2a2a2a">2005</text><g shape-rendering="crispEdges"><rect x="238.80" y="320.10" width="23.48" height="20.73" fill="#b0b0ff"/><rect x="215.32" y="340.83" width="23.48" height="20.73" fill="#5858ff"/><rect x="238.80" y="340.83" width="23.48" height="20.73" fill="#c1c1ff"/><rect x="191.84" y="361.56" width="23.48" height="20.73" fill="#ff4646"/><rect x="215.32" y="361.56" width="23.48" height="20.73" fill="#ff5858"/><rect x="238.80" y="361.56" width="23.48" height="20.73" fill="#ff4646"/><rect x="168.36" y="382.29" width="23.48" height="20.73" fill="#fff6f6"/><rect x="191.84" y="382.29" width="23.48" height="20.73" fill="#ff0000"/><rect x="215.32" y="382.29" width="23.48" height="20.73" fill="#fff6f6"/><rect x="238.80" y="382.29" width="23.48" height="20.73" fill="#fff6f6"/><rect x="144.88" y="403.02" width="23.48" height="20.73" fill="#ff5858"/><rect x="168.36" y="403.02" width="23.48" height="20.73" fill="#ff4646"/><rect x="191.84" y="403.02" width="23.48" height="20.73" fill="#ff0000"/><rect x="215.32" y="403.02" width="23.48" height="20.73" fill="#ff5858"/><rect x="238.80" y="403.02" width="23.48" height="20.73" fill="#ff4646"/><rect x="121.40" y="423.75" width="23.48" height="20.73" fill="#5858ff"/><rect x="144.88" y="423.75" width="23.48" height="20.73" fill="#ff5858"/><rect x="168.36" y="423.75" width="23.48" height="20.73" fill="#ffd3d3"/><rect x="191.84" y="423.75" width="23.48" height="20.73" fill="#ff2323"/><rect x="215.32" y="423.75" width="23.48" height="20.73" fill="#7b7bff"/><rect x="238.80" y="423.75" width="23.48" height="20.73" fill="#9e9eff"/><rect x="97.92" y="444.48" width="23.48" height="20.73" fill="#4646ff"/><rect x="121.40" y="444.48" width="23.48" height="20.73" fill="#5858ff"/><rect x="144.88" y="444.48" width="23.48" height="20.73" fill="#ff1212"/><rect x="168.36" y="444.48" width="23.48" height="20.73" fill="#ffd3d3"/><rect x="191.84" y="444.48" width="23.48" height="20.73" fill="#ff2323"/><rect x="215.32" y="444.48" width="23.48" height="20.73" fill="#7b7bff"/><rect x="238.80" y="444.48" width="23.48" height="20.73" fill="#9e9eff"/><rect x="74.44" y="465.21" width="23.48" height="20.73" fill="#1212ff"/><rect x="97.92" y="465.21" width="23.48" height="20.73" fill="#4646ff"/><rect x="121.40" y="465.21" width="23.48" height="20.73" fill="#5858ff"/><rect x="144.88" y="465.21" width="23.48" height="20.73" fill="#ff4646"/><rect x="168.36" y="465.21" width="23.48" height="20.73" fill="#f6f6ff"/><rect x="191.84" y="465.21" width="23.48" height="20.73" fill="#ff2323"/><rect x="215.32" y="465.21" width="23.48" height="20.73" fill="#8d8dff"/><rect x="238.80" y="465.21" width="23.48" height="20.73" fill="#9e9eff"/><rect x="50.96" y="485.94" width="23.48" height="20.73" fill="#4646ff"/><rect x="74.44" y="485.94" width="23.48" height="20.73" fill="#9e9eff"/><rect x="97.92" y="485.94" width="23.48" height="20.73" fill="#9e9eff"/><rect x="121.40" y="485.94" width="23.48" height="20.73" fill="#8d8dff"/><rect x="144.88" y="485.94" width="23.48" height="20.73" fill="#ff4646"/><rect x="168.36" y="485.94" width="23.48" height="20.73" fill="#ffe5e5"/><rect x="191.84" y="485.94" width="23.48" height="20.73" fill="#ff1212"/><rect x="215.32" y="485.94" width="23.48" height="20.73" fill="#e5e5ff"/><rect x="238.80" y="485.94" width="23.48" height="20.73" fill="#e5e5ff"/><rect x="27.48" y="506.67" width="23.48" height="20.73" fill="#c1c1ff"/><rect x="50.96" y="506.67" width="23.48" height="20.73" fill="#f6f6ff"/><rect x="74.44" y="506.67" width="23.48" height="20.73" fill="#e5e5ff"/><rect x="97.92" y="506.67" width="23.48" height="20.73" fill="#fff6f6"/><rect x="121.40" y="506.67" width="23.48" height="20.73" fill="#f6f6ff"/><rect x="144.88" y="506.67" width="23.48" height="20.73" fill="#ff0000"/><rect x="168.36" y="506.67" width="23.48" height="20.73" fill="#ffd3d3"/><rect x="191.84" y="506.67" width="23.48" height="20.73" fill="#ff3535"/><rect x="215.32" y="506.67" width="23.48" height="20.73" fill="#ffe5e5"/><rect x="238.80" y="506.67" width="23.48" height="20.73" fill="#ffe5e5"/><rect x="4.00" y="527.40" width="23.48" height="20.73" fill="#0000ff"/><rect x="27.48" y="527.40" width="23.48" height="20.73" fill="#f6f6ff"/><rect x="50.96" y="527.40" width="23.48" height="20.73" fill="#9e9eff"/><rect x="74.44" y="527.40" width="23.48" height="20.73" fill="#2323ff"/><rect x="97.92" y="527.40" width="23.48" height="20.73" fill="#8d8dff"/><rect x="121.40" y="527.40" width="23.48" height="20.73" fill="#6a6aff"/><rect x="144.88" y="527.40" width="23.48" height="20.73" fill="#ff2323"/><rect x="168.36" y="527.40" width="23.48" height="20.73" fill="#ffd3d3"/><rect x="191.84" y="527.40" width="23.48" height="20.73" fill="#ff2323"/><rect x="215.32" y="527.40" width="23.48" height="20.73" fill="#8d8dff"/><rect x="238.80" y="527.40" width="23.48" height="20.73" fill="#8d8dff"/><rect x="4.00" y="548.13" width="23.48" height="20.73" fill="#e5e5ff"/><rect x="27.48" y="548.13" width="23.48" height="20.73" fill="#ffc1c1"/><rect x="50.96" y="548.13" width="23.48" height="20.73" fill="#e5e5ff"/><rect x="74.44" y="548.13" width="23.48" height="20.73" fill="#ffe5e5"/><rect x="97.92" y="548.13" width="23.48" height="20.73" fill="#fff6f6"/><rect x="121.40" y="548.13" width="23.48" height="20.73" fill="#e5e5ff"/><rect x="144.88" y="548.13" width="23.48" height="20.73" fill="#ff4646"/><rect x="168.36" y="548.13" width="23.48" height="20.73" fill="#ffb0b0"/><rect x="191.84" y="548.13" width="23.48" height="20.73" fill="#ff3535"/><rect x="215.32" y="548.13" width="23.48" height="20.73" fill="#f6f6ff"/><rect x="238.80" y="548.13" width="23.48" height="20.73" fill="#ffe5e5"/></g><g font-family="Liberation Serif" text-anchor="middle" stroke-width="0.05"><text transform="translate(250.54,334.08) scale(1,1.07)" fill="#000" stroke="#000" font-size="9.1">0.239</text><text transform="translate(227.06,354.81) scale(1,1.07)" fill="#fff" stroke="#fff" font-size="9.1">0.132</text><text transform="translate(250.54,354.81) scale(1,1.07)" fill="#000" stroke="#000" font-size="9.1">0.261</text><text transform="translate(203.58,375.54) scale(1,1.07)" fill="#fff" stroke="#fff" font-size="9.1">0.583</text><text transform="translate(227.06,375.54) scale(1,1.07)" fill="#000" stroke="#000" font-size="9.1">0.571</text><text transform="translate(250.54,375.54) scale(1,1.07)" fill="#fff" stroke="#fff" font-size="9.1">0.576</text><text transform="translate(180.10,396.27) scale(1,1.07)" fill="#000" stroke="#000" font-size="9.1">0.366</text><text transform="translate(203.58,396.27) scale(1,1.07)" fill="#fff" stroke="#fff" font-size="9.1">0.679</text><text transform="translate(227.06,396.27) scale(1,1.07)" fill="#000" stroke="#000" font-size="9.1">0.361</text><text transform="translate(250.54,396.27) scale(1,1.07)" fill="#000" stroke="#000" font-size="9.1">0.353</text><text transform="translate(156.62,417.00) scale(1,1.07)" fill="#000" stroke="#000" font-size="9.1">0.566</text><text transform="translate(180.10,417.00) scale(1,1.07)" fill="#fff" stroke="#fff" font-size="9.1">0.596</text><text transform="translate(203.58,417.00) scale(1,1.07)" fill="#fff" stroke="#fff" font-size="9.1">0.686</text><text transform="translate(227.06,417.00) scale(1,1.07)" fill="#000" stroke="#000" font-size="9.1">0.573</text><text transform="translate(250.54,417.00) scale(1,1.07)" fill="#fff" stroke="#fff" font-size="9.1">0.589</text><text transform="translate(133.14,437.73) scale(1,1.07)" fill="#fff" stroke="#fff" font-size="9.1">0.146</text><text transform="translate(156.62,437.73) scale(1,1.07)" fill="#000" stroke="#000" font-size="9.1">0.557</text><text transform="translate(180.10,437.73) scale(1,1.07)" fill="#000" stroke="#000" font-size="9.1">0.411</text><text transform="translate(203.58,437.73) scale(1,1.07)" fill="#fff" stroke="#fff" font-size="9.1">0.62</text><text transform="translate(227.06,437.73) scale(1,1.07)" fill="#000" stroke="#000" font-size="9.1">0.18</text><text transform="translate(250.54,437.73) scale(1,1.07)" fill="#000" stroke="#000" font-size="9.1">0.215</text><text transform="translate(109.66,458.46) scale(1,1.07)" fill="#fff" stroke="#fff" font-size="9.1">0.108</text><text transform="translate(133.14,458.46) scale(1,1.07)" fill="#fff" stroke="#fff" font-size="9.1">0.138</text><text transform="translate(156.62,458.46) scale(1,1.07)" fill="#fff" stroke="#fff" font-size="9.1">0.649</text><text transform="translate(180.10,458.46) scale(1,1.07)" fill="#000" stroke="#000" font-size="9.1">0.416</text><text transform="translate(203.58,458.46) scale(1,1.07)" fill="#fff" stroke="#fff" font-size="9.1">0.638</text><text transform="translate(227.06,458.46) scale(1,1.07)" fill="#000" stroke="#000" font-size="9.1">0.179</text><text transform="translate(250.54,458.46) scale(1,1.07)" fill="#000" stroke="#000" font-size="9.1">0.223</text><text transform="translate(86.18,479.19) scale(1,1.07)" fill="#fff" stroke="#fff" font-size="9.1">0.039</text><text transform="translate(109.66,479.19) scale(1,1.07)" fill="#fff" stroke="#fff" font-size="9.1">0.115</text><text transform="translate(133.14,479.19) scale(1,1.07)" fill="#fff" stroke="#fff" font-size="9.1">0.126</text><text transform="translate(156.62,479.19) scale(1,1.07)" fill="#fff" stroke="#fff" font-size="9.1">0.591</text><text transform="translate(180.10,479.19) scale(1,1.07)" fill="#000" stroke="#000" font-size="9.1">0.343</text><text transform="translate(203.58,479.19) scale(1,1.07)" fill="#fff" stroke="#fff" font-size="9.1">0.631</text><text transform="translate(227.06,479.19) scale(1,1.07)" fill="#000" stroke="#000" font-size="9.1">0.192</text><text transform="translate(250.54,479.19) scale(1,1.07)" fill="#000" stroke="#000" font-size="9.1">0.218</text><text transform="translate(62.70,499.92) scale(1,1.07)" fill="#fff" stroke="#fff" font-size="9.1">0.121</text><text transform="translate(86.18,499.92) scale(1,1.07)" fill="#000" stroke="#000" font-size="9.1">0.235</text><text transform="translate(109.66,499.92) scale(1,1.07)" fill="#000" stroke="#000" font-size="9.1">0.235</text><text transform="translate(133.14,499.92) scale(1,1.07)" fill="#000" stroke="#000" font-size="9.1">0.21</text><text transform="translate(156.62,499.92) scale(1,1.07)" fill="#fff" stroke="#fff" font-size="9.1">0.595</text><text transform="translate(180.10,499.92) scale(1,1.07)" fill="#000" stroke="#000" font-size="9.1">0.372</text><text transform="translate(203.58,499.92) scale(1,1.07)" fill="#fff" stroke="#fff" font-size="9.1">0.658</text><text transform="translate(227.06,499.92) scale(1,1.07)" fill="#000" stroke="#000" font-size="9.1">0.317</text><text transform="translate(250.54,499.92) scale(1,1.07)" fill="#000" stroke="#000" font-size="9.1">0.309</text><text transform="translate(39.22,520.65) scale(1,1.07)" fill="#000" stroke="#000" font-size="9.1">0.28</text><text transform="translate(62.70,520.65) scale(1,1.07)" fill="#000" stroke="#000" font-size="9.1">0.327</text><text transform="translate(86.18,520.65) scale(1,1.07)" fill="#000" stroke="#000" font-size="9.1">0.306</text><text transform="translate(109.66,520.65) scale(1,1.07)" fill="#000" stroke="#000" font-size="9.1">0.356</text><text transform="translate(133.14,520.65) scale(1,1.07)" fill="#000" stroke="#000" font-size="9.1">0.338</text><text transform="translate(156.62,520.65) scale(1,1.07)" fill="#fff" stroke="#fff" font-size="9.1">0.683</text><text transform="translate(180.10,520.65) scale(1,1.07)" fill="#000" stroke="#000" font-size="9.1">0.394</text><text transform="translate(203.58,520.65) scale(1,1.07)" fill="#fff" stroke="#fff" font-size="9.1">0.609</text><text transform="translate(227.06,520.65) scale(1,1.07)" fill="#000" stroke="#000" font-size="9.1">0.386</text><text transform="translate(250.54,520.65) scale(1,1.07)" fill="#000" stroke="#000" font-size="9.1">0.393</text><text transform="translate(15.74,541.38) scale(1,1.07)" fill="#fff" stroke="#fff" font-size="9.1">0.013</text><text transform="translate(39.22,541.38) scale(1,1.07)" fill="#000" stroke="#000" font-size="9.1">0.348</text><text transform="translate(62.70,541.38) scale(1,1.07)" fill="#000" stroke="#000" font-size="9.1">0.22</text><text transform="translate(86.18,541.38) scale(1,1.07)" fill="#fff" stroke="#fff" font-size="9.1">0.079</text><text transform="translate(109.66,541.38) scale(1,1.07)" fill="#000" stroke="#000" font-size="9.1">0.214</text><text transform="translate(133.14,541.38) scale(1,1.07)" fill="#fff" stroke="#fff" font-size="9.1">0.148</text><text transform="translate(156.62,541.38) scale(1,1.07)" fill="#fff" stroke="#fff" font-size="9.1">0.631</text><text transform="translate(180.10,541.38) scale(1,1.07)" fill="#000" stroke="#000" font-size="9.1">0.408</text><text transform="translate(203.58,541.38) scale(1,1.07)" fill="#fff" stroke="#fff" font-size="9.1">0.63</text><text transform="translate(227.06,541.38) scale(1,1.07)" fill="#000" stroke="#000" font-size="9.1">0.208</text><text transform="translate(250.54,541.38) scale(1,1.07)" fill="#000" stroke="#000" font-size="9.1">0.206</text><text transform="translate(15.74,562.11) scale(1,1.07)" fill="#000" stroke="#000" font-size="9.1">0.315</text><text transform="translate(39.22,562.11) scale(1,1.07)" fill="#000" stroke="#000" font-size="9.1">0.428</text><text transform="translate(62.70,562.11) scale(1,1.07)" fill="#000" stroke="#000" font-size="9.1">0.325</text><text transform="translate(86.18,562.11) scale(1,1.07)" fill="#000" stroke="#000" font-size="9.1">0.386</text><text transform="translate(109.66,562.11) scale(1,1.07)" fill="#000" stroke="#000" font-size="9.1">0.361</text><text transform="translate(133.14,562.11) scale(1,1.07)" fill="#000" stroke="#000" font-size="9.1">0.305</text><text transform="translate(156.62,562.11) scale(1,1.07)" fill="#fff" stroke="#fff" font-size="9.1">0.591</text><text transform="translate(180.10,562.11) scale(1,1.07)" fill="#000" stroke="#000" font-size="9.1">0.443</text><text transform="translate(203.58,562.11) scale(1,1.07)" fill="#fff" stroke="#fff" font-size="9.1">0.599</text><text transform="translate(227.06,562.11) scale(1,1.07)" fill="#000" stroke="#000" font-size="9.1">0.335</text><text transform="translate(250.54,562.11) scale(1,1.07)" fill="#000" stroke="#000" font-size="9.1">0.374</text></g><g font-family="Liberation Serif" text-anchor="middle" font-size="8.6" fill="#000" stroke="#000" stroke-width="0.03"><text transform="translate(274.08,333.89) scale(1,1.07)">X12</text><text transform="translate(274.08,354.62) scale(1,1.07)">X11</text><text transform="translate(274.08,375.35) scale(1,1.07)">X10</text><text transform="translate(274.08,396.08) scale(1,1.07)">X9</text><text transform="translate(274.08,416.81) scale(1,1.07)">X8</text><text transform="translate(274.08,437.54) scale(1,1.07)">X7</text><text transform="translate(274.08,458.27) scale(1,1.07)">X6</text><text transform="translate(274.08,479.00) scale(1,1.07)">X5</text><text transform="translate(274.08,499.73) scale(1,1.07)">X4</text><text transform="translate(274.08,520.46) scale(1,1.07)">X3</text><text transform="translate(274.08,541.19) scale(1,1.07)">X2</text><text transform="translate(274.08,561.92) scale(1,1.07)">X1</text><text transform="translate(15.74,583.09) scale(1,1.07)">X2</text><text transform="translate(39.22,583.09) scale(1,1.07)">X3</text><text transform="translate(62.70,583.09) scale(1,1.07)">X4</text><text transform="translate(86.18,583.09) scale(1,1.07)">X5</text><text transform="translate(109.66,583.09) scale(1,1.07)">X6</text><text transform="translate(133.14,583.09) scale(1,1.07)">X7</text><text transform="translate(156.62,583.09) scale(1,1.07)">X8</text><text transform="translate(180.10,583.09) scale(1,1.07)">X9</text><text transform="translate(203.58,583.09) scale(1,1.07)">X10</text><text transform="translate(227.06,583.09) scale(1,1.07)">X11</text><text transform="translate(250.54,583.09) scale(1,1.07)">X12</text></g><g shape-rendering="crispEdges"><rect x="288.20" y="575.29" width="20.10" height="9.03" fill="#0000ff"/><rect x="288.20" y="566.28" width="20.10" height="9.03" fill="#1212ff"/><rect x="288.20" y="557.27" width="20.10" height="9.03" fill="#2323ff"/><rect x="288.20" y="548.26" width="20.10" height="9.03" fill="#3535ff"/><rect x="288.20" y="539.25" width="20.10" height="9.03" fill="#4646ff"/><rect x="288.20" y="530.24" width="20.10" height="9.03" fill="#5858ff"/><rect x="288.20" y="521.23" width="20.10" height="9.03" fill="#6a6aff"/><rect x="288.20" y="512.22" width="20.10" height="9.03" fill="#7b7bff"/><rect x="288.20" y="503.21" width="20.10" height="9.03" fill="#8d8dff"/><rect x="288.20" y="494.20" width="20.10" height="9.03" fill="#9e9eff"/><rect x="288.20" y="485.19" width="20.10" height="9.03" fill="#b0b0ff"/><rect x="288.20" y="476.18" width="20.10" height="9.03" fill="#c1c1ff"/><rect x="288.20" y="467.17" width="20.10" height="9.03" fill="#d3d3ff"/><rect x="288.20" y="458.16" width="20.10" height="9.03" fill="#e5e5ff"/><rect x="288.20" y="449.15" width="20.10" height="9.03" fill="#f6f6ff"/><rect x="288.20" y="440.14" width="20.10" height="9.03" fill="#fff6f6"/><rect x="288.20" y="431.13" width="20.10" height="9.03" fill="#ffe5e5"/><rect x="288.20" y="422.12" width="20.10" height="9.03" fill="#ffd3d3"/><rect x="288.20" y="413.11" width="20.10" height="9.03" fill="#ffc1c1"/><rect x="288.20" y="404.10" width="20.10" height="9.03" fill="#ffb0b0"/><rect x="288.20" y="395.09" width="20.10" height="9.03" fill="#ff9e9e"/><rect x="288.20" y="386.08" width="20.10" height="9.03" fill="#ff8d8d"/><rect x="288.20" y="377.07" width="20.10" height="9.03" fill="#ff7b7b"/><rect x="288.20" y="368.06" width="20.10" height="9.03" fill="#ff6a6a"/><rect x="288.20" y="359.05" width="20.10" height="9.03" fill="#ff5858"/><rect x="288.20" y="350.04" width="20.10" height="9.03" fill="#ff4646"/><rect x="288.20" y="341.03" width="20.10" height="9.03" fill="#ff3535"/><rect x="288.20" y="332.02" width="20.10" height="9.03" fill="#ff2323"/><rect x="288.20" y="323.01" width="20.10" height="9.03" fill="#ff1212"/><rect x="288.20" y="314.00" width="20.10" height="9.03" fill="#ff0000"/></g><rect x="288.70" y="314.50" width="19.10" height="269.30" fill="none" stroke="#000" stroke-opacity="0.7" stroke-width="1"/><g font-family="Liberation Serif" font-size="6.8" fill="#222"><line x1="308.30" y1="314.00" x2="313.30" y2="314.00" stroke="#555" stroke-width="0.9"/><text transform="translate(315.50,316.61) scale(1,1.0)">0.6860</text><line x1="308.30" y1="368.06" x2="313.30" y2="368.06" stroke="#555" stroke-width="0.9"/><text transform="translate(315.50,370.67) scale(1,1.0)">0.5512</text><line x1="308.30" y1="422.12" x2="313.30" y2="422.12" stroke="#555" stroke-width="0.9"/><text transform="translate(315.50,424.73) scale(1,1.0)">0.4164</text><line x1="308.30" y1="476.18" x2="313.30" y2="476.18" stroke="#555" stroke-width="0.9"/><text transform="translate(315.50,478.79) scale(1,1.0)">0.2816</text><line x1="308.30" y1="530.24" x2="313.30" y2="530.24" stroke="#555" stroke-width="0.9"/><text transform="translate(315.50,532.85) scale(1,1.0)">0.1468</text><line x1="308.30" y1="584.30" x2="313.30" y2="584.30" stroke="#555" stroke-width="0.9"/><text transform="translate(315.50,586.91) scale(1,1.0)">0.01200</text></g><text x="144.90" y="604.56" font-family="Liberation Serif" font-size="14" text-anchor="middle" fill="#2a2a2a">2010</text><g shape-rendering="crispEdges"><rect x="580.10" y="323.70" width="23.46" height="20.78" fill="#b0b0ff"/><rect x="556.64" y="344.48" width="23.46" height="20.78" fill="#9e9eff"/><rect x="580.10" y="344.48" width="23.46" height="20.78" fill="#e5e5ff"/><rect x="533.18" y="365.26" width="23.46" height="20.78" fill="#ff6a6a"/><rect x="556.64" y="365.26" width="23.46" height="20.78" fill="#ff2323"/><rect x="580.10" y="365.26" width="23.46" height="20.78" fill="#ff2323"/><rect x="509.72" y="386.04" width="23.46" height="20.78" fill="#ffd3d3"/><rect x="533.18" y="386.04" width="23.46" height="20.78" fill="#ff4646"/><rect x="556.64" y="386.04" width="23.46" height="20.78" fill="#ffe5e5"/><rect x="580.10" y="386.04" width="23.46" height="20.78" fill="#ffe5e5"/><rect x="486.26" y="406.82" width="23.46" height="20.78" fill="#ff5858"/><rect x="509.72" y="406.82" width="23.46" height="20.78" fill="#ff1212"/><rect x="533.18" y="406.82" width="23.46" height="20.78" fill="#ff0000"/><rect x="556.64" y="406.82" width="23.46" height="20.78" fill="#ff2323"/><rect x="580.10" y="406.82" width="23.46" height="20.78" fill="#ff2323"/><rect x="462.80" y="427.60" width="23.46" height="20.78" fill="#4646ff"/><rect x="486.26" y="427.60" width="23.46" height="20.78" fill="#ff2323"/><rect x="509.72" y="427.60" width="23.46" height="20.78" fill="#ffc1c1"/><rect x="533.18" y="427.60" width="23.46" height="20.78" fill="#ff5858"/><rect x="556.64" y="427.60" width="23.46" height="20.78" fill="#d3d3ff"/><rect x="580.10" y="427.60" width="23.46" height="20.78" fill="#c1c1ff"/><rect x="439.34" y="448.38" width="23.46" height="20.78" fill="#4646ff"/><rect x="462.80" y="448.38" width="23.46" height="20.78" fill="#9e9eff"/><rect x="486.26" y="448.38" width="23.46" height="20.78" fill="#ff4646"/><rect x="509.72" y="448.38" width="23.46" height="20.78" fill="#ffe5e5"/><rect x="533.18" y="448.38" width="23.46" height="20.78" fill="#ff3535"/><rect x="556.64" y="448.38" width="23.46" height="20.78" fill="#c1c1ff"/><rect x="580.10" y="448.38" width="23.46" height="20.78" fill="#d3d3ff"/><rect x="415.88" y="469.16" width="23.46" height="20.78" fill="#5858ff"/><rect x="439.34" y="469.16" width="23.46" height="20.78" fill="#8d8dff"/><rect x="462.80" y="469.16" width="23.46" height="20.78" fill="#8d8dff"/><rect x="486.26" y="469.16" width="23.46" height="20.78" fill="#c1c1ff"/><rect x="509.72" y="469.16" width="23.46" height="20.78" fill="#ffc1c1"/><rect x="533.18" y="469.16" width="23.46" height="20.78" fill="#ff5858"/><rect x="556.64" y="469.16" width="23.46" height="20.78" fill="#b0b0ff"/><rect x="580.10" y="469.16" width="23.46" height="20.78" fill="#c1c1ff"/><rect x="392.42" y="489.94" width="23.46" height="20.78" fill="#8d8dff"/><rect x="415.88" y="489.94" width="23.46" height="20.78" fill="#9e9eff"/><rect x="439.34" y="489.94" width="23.46" height="20.78" fill="#e5e5ff"/><rect x="462.80" y="489.94" width="23.46" height="20.78" fill="#d3d3ff"/><rect x="486.26" y="489.94" width="23.46" height="20.78" fill="#ff5858"/><rect x="509.72" y="489.94" width="23.46" height="20.78" fill="#fff6f6"/><rect x="533.18" y="489.94" width="23.46" height="20.78" fill="#ff2323"/><rect x="556.64" y="489.94" width="23.46" height="20.78" fill="#d3d3ff"/><rect x="580.10" y="489.94" width="23.46" height="20.78" fill="#ffe5e5"/><rect x="368.96" y="510.72" width="23.46" height="20.78" fill="#b0b0ff"/><rect x="392.42" y="510.72" width="23.46" height="20.78" fill="#ffe5e5"/><rect x="415.88" y="510.72" width="23.46" height="20.78" fill="#fff6f6"/><rect x="439.34" y="510.72" width="23.46" height="20.78" fill="#ff3535"/><rect x="462.80" y="510.72" width="23.46" height="20.78" fill="#fff6f6"/><rect x="486.26" y="510.72" width="23.46" height="20.78" fill="#ff4646"/><rect x="509.72" y="510.72" width="23.46" height="20.78" fill="#ffc1c1"/><rect x="533.18" y="510.72" width="23.46" height="20.78" fill="#ff2323"/><rect x="556.64" y="510.72" width="23.46" height="20.78" fill="#e5e5ff"/><rect x="580.10" y="510.72" width="23.46" height="20.78" fill="#fff6f6"/><rect x="345.50" y="531.50" width="23.46" height="20.78" fill="#0000ff"/><rect x="368.96" y="531.50" width="23.46" height="20.78" fill="#fff6f6"/><rect x="392.42" y="531.50" width="23.46" height="20.78" fill="#d3d3ff"/><rect x="415.88" y="531.50" width="23.46" height="20.78" fill="#3535ff"/><rect x="439.34" y="531.50" width="23.46" height="20.78" fill="#8d8dff"/><rect x="462.80" y="531.50" width="23.46" height="20.78" fill="#9e9eff"/><rect x="486.26" y="531.50" width="23.46" height="20.78" fill="#ff3535"/><rect x="509.72" y="531.50" width="23.46" height="20.78" fill="#ffe5e5"/><rect x="533.18" y="531.50" width="23.46" height="20.78" fill="#ff4646"/><rect x="556.64" y="531.50" width="23.46" height="20.78" fill="#c1c1ff"/><rect x="580.10" y="531.50" width="23.46" height="20.78" fill="#9e9eff"/><rect x="345.50" y="552.28" width="23.46" height="20.78" fill="#f6f6ff"/><rect x="368.96" y="552.28" width="23.46" height="20.78" fill="#ffe5e5"/><rect x="392.42" y="552.28" width="23.46" height="20.78" fill="#ffc1c1"/><rect x="415.88" y="552.28" width="23.46" height="20.78" fill="#ffe5e5"/><rect x="439.34" y="552.28" width="23.46" height="20.78" fill="#f6f6ff"/><rect x="462.80" y="552.28" width="23.46" height="20.78" fill="#e5e5ff"/><rect x="486.26" y="552.28" width="23.46" height="20.78" fill="#ff2323"/><rect x="509.72" y="552.28" width="23.46" height="20.78" fill="#ff9e9e"/><rect x="533.18" y="552.28" width="23.46" height="20.78" fill="#ff3535"/><rect x="556.64" y="552.28" width="23.46" height="20.78" fill="#fff6f6"/><rect x="580.10" y="552.28" width="23.46" height="20.78" fill="#ffe5e5"/></g><g font-family="Liberation Serif" text-anchor="middle" stroke-width="0.05"><text transform="translate(591.83,337.37) scale(1,1.07)" fill="#000" stroke="#000" font-size="8.2">0.226</text><text transform="translate(568.37,358.15) scale(1,1.07)" fill="#000" stroke="#000" font-size="8.2">0.203</text><text transform="translate(591.83,358.15) scale(1,1.07)" fill="#000" stroke="#000" font-size="8.2">0.293</text><text transform="translate(544.91,378.93) scale(1,1.07)" fill="#000" stroke="#000" font-size="8.2">0.541</text><text transform="translate(568.37,378.93) scale(1,1.07)" fill="#fff" stroke="#fff" font-size="8.2">0.629</text><text transform="translate(591.83,378.93) scale(1,1.07)" fill="#fff" stroke="#fff" font-size="8.2">0.617</text><text transform="translate(521.45,399.71) scale(1,1.07)" fill="#000" stroke="#000" font-size="8.2">0.389</text><text transform="translate(544.91,399.71) scale(1,1.07)" fill="#fff" stroke="#fff" font-size="8.2">0.585</text><text transform="translate(568.37,399.71) scale(1,1.07)" fill="#000" stroke="#000" font-size="8.2">0.373</text><text transform="translate(591.83,399.71) scale(1,1.07)" fill="#000" stroke="#000" font-size="8.2">0.366</text><text transform="translate(497.99,420.49) scale(1,1.07)" fill="#000" stroke="#000" font-size="8.2">0.567</text><text transform="translate(521.45,420.49) scale(1,1.07)" fill="#fff" stroke="#fff" font-size="8.2">0.662</text><text transform="translate(544.91,420.49) scale(1,1.07)" fill="#fff" stroke="#fff" font-size="8.2">0.687</text><text transform="translate(568.37,420.49) scale(1,1.07)" fill="#fff" stroke="#fff" font-size="8.2">0.618</text><text transform="translate(591.83,420.49) scale(1,1.07)" fill="#fff" stroke="#fff" font-size="8.2">0.63</text><text transform="translate(474.53,441.27) scale(1,1.07)" fill="#fff" stroke="#fff" font-size="8.2">0.067</text><text transform="translate(497.99,441.27) scale(1,1.07)" fill="#fff" stroke="#fff" font-size="8.2">0.637</text><text transform="translate(521.45,441.27) scale(1,1.07)" fill="#000" stroke="#000" font-size="8.2">0.419</text><text transform="translate(544.91,441.27) scale(1,1.07)" fill="#000" stroke="#000" font-size="8.2">0.555</text><text transform="translate(568.37,441.27) scale(1,1.07)" fill="#000" stroke="#000" font-size="8.2">0.26</text><text transform="translate(591.83,441.27) scale(1,1.07)" fill="#000" stroke="#000" font-size="8.2">0.234</text><text transform="translate(451.07,462.05) scale(1,1.07)" fill="#fff" stroke="#fff" font-size="8.2">0.081</text><text transform="translate(474.53,462.05) scale(1,1.07)" fill="#000" stroke="#000" font-size="8.2">0.188</text><text transform="translate(497.99,462.05) scale(1,1.07)" fill="#fff" stroke="#fff" font-size="8.2">0.579</text><text transform="translate(521.45,462.05) scale(1,1.07)" fill="#000" stroke="#000" font-size="8.2">0.358</text><text transform="translate(544.91,462.05) scale(1,1.07)" fill="#fff" stroke="#fff" font-size="8.2">0.614</text><text transform="translate(568.37,462.05) scale(1,1.07)" fill="#000" stroke="#000" font-size="8.2">0.248</text><text transform="translate(591.83,462.05) scale(1,1.07)" fill="#000" stroke="#000" font-size="8.2">0.274</text><text transform="translate(427.61,482.83) scale(1,1.07)" fill="#fff" stroke="#fff" font-size="8.2">0.092</text><text transform="translate(451.07,482.83) scale(1,1.07)" fill="#000" stroke="#000" font-size="8.2">0.165</text><text transform="translate(474.53,482.83) scale(1,1.07)" fill="#000" stroke="#000" font-size="8.2">0.181</text><text transform="translate(497.99,482.83) scale(1,1.07)" fill="#000" stroke="#000" font-size="8.2">0.256</text><text transform="translate(521.45,482.83) scale(1,1.07)" fill="#000" stroke="#000" font-size="8.2">0.411</text><text transform="translate(544.91,482.83) scale(1,1.07)" fill="#000" stroke="#000" font-size="8.2">0.555</text><text transform="translate(568.37,482.83) scale(1,1.07)" fill="#000" stroke="#000" font-size="8.2">0.218</text><text transform="translate(591.83,482.83) scale(1,1.07)" fill="#000" stroke="#000" font-size="8.2">0.25</text><text transform="translate(404.15,503.61) scale(1,1.07)" fill="#000" stroke="#000" font-size="8.2">0.181</text><text transform="translate(427.61,503.61) scale(1,1.07)" fill="#000" stroke="#000" font-size="8.2">0.207</text><text transform="translate(451.07,503.61) scale(1,1.07)" fill="#000" stroke="#000" font-size="8.2">0.298</text><text transform="translate(474.53,503.61) scale(1,1.07)" fill="#000" stroke="#000" font-size="8.2">0.267</text><text transform="translate(497.99,503.61) scale(1,1.07)" fill="#000" stroke="#000" font-size="8.2">0.558</text><text transform="translate(521.45,503.61) scale(1,1.07)" fill="#000" stroke="#000" font-size="8.2">0.344</text><text transform="translate(544.91,503.61) scale(1,1.07)" fill="#fff" stroke="#fff" font-size="8.2">0.624</text><text transform="translate(568.37,503.61) scale(1,1.07)" fill="#000" stroke="#000" font-size="8.2">0.26</text><text transform="translate(591.83,503.61) scale(1,1.07)" fill="#000" stroke="#000" font-size="8.2">0.353</text><text transform="translate(380.69,524.39) scale(1,1.07)" fill="#000" stroke="#000" font-size="8.2">0.216</text><text transform="translate(404.15,524.39) scale(1,1.07)" fill="#000" stroke="#000" font-size="8.2">0.371</text><text transform="translate(427.61,524.39) scale(1,1.07)" fill="#000" stroke="#000" font-size="8.2">0.352</text><text transform="translate(451.07,524.39) scale(1,1.07)" fill="#fff" stroke="#fff" font-size="8.2">0.599</text><text transform="translate(474.53,524.39) scale(1,1.07)" fill="#000" stroke="#000" font-size="8.2">0.329</text><text transform="translate(497.99,524.39) scale(1,1.07)" fill="#fff" stroke="#fff" font-size="8.2">0.587</text><text transform="translate(521.45,524.39) scale(1,1.07)" fill="#000" stroke="#000" font-size="8.2">0.409</text><text transform="translate(544.91,524.39) scale(1,1.07)" fill="#fff" stroke="#fff" font-size="8.2">0.636</text><text transform="translate(568.37,524.39) scale(1,1.07)" fill="#000" stroke="#000" font-size="8.2">0.3</text><text transform="translate(591.83,524.39) scale(1,1.07)" fill="#000" stroke="#000" font-size="8.2">0.345</text><text transform="translate(357.23,545.17) scale(1,1.07)" fill="#fff" stroke="#fff" font-size="8.2">-0.031</text><text transform="translate(380.69,545.17) scale(1,1.07)" fill="#000" stroke="#000" font-size="8.2">0.341</text><text transform="translate(404.15,545.17) scale(1,1.07)" fill="#000" stroke="#000" font-size="8.2">0.273</text><text transform="translate(427.61,545.17) scale(1,1.07)" fill="#fff" stroke="#fff" font-size="8.2">0.057</text><text transform="translate(451.07,545.17) scale(1,1.07)" fill="#000" stroke="#000" font-size="8.2">0.176</text><text transform="translate(474.53,545.17) scale(1,1.07)" fill="#000" stroke="#000" font-size="8.2">0.188</text><text transform="translate(497.99,545.17) scale(1,1.07)" fill="#fff" stroke="#fff" font-size="8.2">0.611</text><text transform="translate(521.45,545.17) scale(1,1.07)" fill="#000" stroke="#000" font-size="8.2">0.366</text><text transform="translate(544.91,545.17) scale(1,1.07)" fill="#fff" stroke="#fff" font-size="8.2">0.591</text><text transform="translate(568.37,545.17) scale(1,1.07)" fill="#000" stroke="#000" font-size="8.2">0.242</text><text transform="translate(591.83,545.17) scale(1,1.07)" fill="#000" stroke="#000" font-size="8.2">0.206</text><text transform="translate(357.23,565.95) scale(1,1.07)" fill="#000" stroke="#000" font-size="8.2">0.323</text><text transform="translate(380.69,565.95) scale(1,1.07)" fill="#000" stroke="#000" font-size="8.2">0.36</text><text transform="translate(404.15,565.95) scale(1,1.07)" fill="#000" stroke="#000" font-size="8.2">0.42</text><text transform="translate(427.61,565.95) scale(1,1.07)" fill="#000" stroke="#000" font-size="8.2">0.357</text><text transform="translate(451.07,565.95) scale(1,1.07)" fill="#000" stroke="#000" font-size="8.2">0.326</text><text transform="translate(474.53,565.95) scale(1,1.07)" fill="#000" stroke="#000" font-size="8.2">0.294</text><text transform="translate(497.99,565.95) scale(1,1.07)" fill="#fff" stroke="#fff" font-size="8.2">0.637</text><text transform="translate(521.45,565.95) scale(1,1.07)" fill="#000" stroke="#000" font-size="8.2">0.47</text><text transform="translate(544.91,565.95) scale(1,1.07)" fill="#fff" stroke="#fff" font-size="8.2">0.603</text><text transform="translate(568.37,565.95) scale(1,1.07)" fill="#000" stroke="#000" font-size="8.2">0.336</text><text transform="translate(591.83,565.95) scale(1,1.07)" fill="#000" stroke="#000" font-size="8.2">0.37</text></g><g font-family="Liberation Serif" text-anchor="middle" font-size="8.0" fill="#000" stroke="#000" stroke-width="0.03"><text transform="translate(615.36,337.30) scale(1,1.07)">X12</text><text transform="translate(615.36,358.08) scale(1,1.07)">X11</text><text transform="translate(615.36,378.86) scale(1,1.07)">X10</text><text transform="translate(615.36,399.64) scale(1,1.07)">X9</text><text transform="translate(615.36,420.42) scale(1,1.07)">X8</text><text transform="translate(615.36,441.20) scale(1,1.07)">X7</text><text transform="translate(615.36,461.98) scale(1,1.07)">X6</text><text transform="translate(615.36,482.76) scale(1,1.07)">X5</text><text transform="translate(615.36,503.54) scale(1,1.07)">X4</text><text transform="translate(615.36,524.32) scale(1,1.07)">X3</text><text transform="translate(615.36,545.10) scale(1,1.07)">X2</text><text transform="translate(615.36,565.88) scale(1,1.07)">X1</text><text transform="translate(357.23,587.07) scale(1,1.07)">X2</text><text transform="translate(380.69,587.07) scale(1,1.07)">X3</text><text transform="translate(404.15,587.07) scale(1,1.07)">X4</text><text transform="translate(427.61,587.07) scale(1,1.07)">X5</text><text transform="translate(451.07,587.07) scale(1,1.07)">X6</text><text transform="translate(474.53,587.07) scale(1,1.07)">X7</text><text transform="translate(497.99,587.07) scale(1,1.07)">X8</text><text transform="translate(521.45,587.07) scale(1,1.07)">X9</text><text transform="translate(544.91,587.07) scale(1,1.07)">X10</text><text transform="translate(568.37,587.07) scale(1,1.07)">X11</text><text transform="translate(591.83,587.07) scale(1,1.07)">X12</text></g><g shape-rendering="crispEdges"><rect x="624.40" y="580.57" width="19.80" height="9.05" fill="#0000ff"/><rect x="624.40" y="571.55" width="19.80" height="9.05" fill="#1212ff"/><rect x="624.40" y="562.52" width="19.80" height="9.05" fill="#2323ff"/><rect x="624.40" y="553.49" width="19.80" height="9.05" fill="#3535ff"/><rect x="624.40" y="544.47" width="19.80" height="9.05" fill="#4646ff"/><rect x="624.40" y="535.44" width="19.80" height="9.05" fill="#5858ff"/><rect x="624.40" y="526.41" width="19.80" height="9.05" fill="#6a6aff"/><rect x="624.40" y="517.39" width="19.80" height="9.05" fill="#7b7bff"/><rect x="624.40" y="508.36" width="19.80" height="9.05" fill="#8d8dff"/><rect x="624.40" y="499.33" width="19.80" height="9.05" fill="#9e9eff"/><rect x="624.40" y="490.31" width="19.80" height="9.05" fill="#b0b0ff"/><rect x="624.40" y="481.28" width="19.80" height="9.05" fill="#c1c1ff"/><rect x="624.40" y="472.25" width="19.80" height="9.05" fill="#d3d3ff"/><rect x="624.40" y="463.23" width="19.80" height="9.05" fill="#e5e5ff"/><rect x="624.40" y="454.20" width="19.80" height="9.05" fill="#f6f6ff"/><rect x="624.40" y="445.17" width="19.80" height="9.05" fill="#fff6f6"/><rect x="624.40" y="436.15" width="19.80" height="9.05" fill="#ffe5e5"/><rect x="624.40" y="427.12" width="19.80" height="9.05" fill="#ffd3d3"/><rect x="624.40" y="418.09" width="19.80" height="9.05" fill="#ffc1c1"/><rect x="624.40" y="409.07" width="19.80" height="9.05" fill="#ffb0b0"/><rect x="624.40" y="400.04" width="19.80" height="9.05" fill="#ff9e9e"/><rect x="624.40" y="391.01" width="19.80" height="9.05" fill="#ff8d8d"/><rect x="624.40" y="381.99" width="19.80" height="9.05" fill="#ff7b7b"/><rect x="624.40" y="372.96" width="19.80" height="9.05" fill="#ff6a6a"/><rect x="624.40" y="363.93" width="19.80" height="9.05" fill="#ff5858"/><rect x="624.40" y="354.91" width="19.80" height="9.05" fill="#ff4646"/><rect x="624.40" y="345.88" width="19.80" height="9.05" fill="#ff3535"/><rect x="624.40" y="336.85" width="19.80" height="9.05" fill="#ff2323"/><rect x="624.40" y="327.83" width="19.80" height="9.05" fill="#ff1212"/><rect x="624.40" y="318.80" width="19.80" height="9.05" fill="#ff0000"/></g><rect x="624.90" y="319.30" width="18.80" height="269.80" fill="none" stroke="#000" stroke-opacity="0.7" stroke-width="1"/><g font-family="Liberation Serif" font-size="6.8" fill="#222"><line x1="644.20" y1="318.80" x2="649.20" y2="318.80" stroke="#555" stroke-width="0.9"/><text transform="translate(651.40,321.41) scale(1,1.0)">0.6880</text><line x1="644.20" y1="372.96" x2="649.20" y2="372.96" stroke="#555" stroke-width="0.9"/><text transform="translate(651.40,375.57) scale(1,1.0)">0.5440</text><line x1="644.20" y1="427.12" x2="649.20" y2="427.12" stroke="#555" stroke-width="0.9"/><text transform="translate(651.40,429.73) scale(1,1.0)">0.4000</text><line x1="644.20" y1="481.28" x2="649.20" y2="481.28" stroke="#555" stroke-width="0.9"/><text transform="translate(651.40,483.89) scale(1,1.0)">0.2560</text><line x1="644.20" y1="535.44" x2="649.20" y2="535.44" stroke="#555" stroke-width="0.9"/><text transform="translate(651.40,538.05) scale(1,1.0)">0.1120</text><line x1="644.20" y1="589.60" x2="649.20" y2="589.60" stroke="#555" stroke-width="0.9"/><text transform="translate(651.40,592.21) scale(1,1.0)">-0.03200</text></g><text x="487.50" y="604.56" font-family="Liberation Serif" font-size="14" text-anchor="middle" fill="#2a2a2a">2015</text><g shape-rendering="crispEdges"><rect x="241.20" y="618.70" width="23.48" height="20.75" fill="#7b7bff"/><rect x="217.72" y="639.45" width="23.48" height="20.75" fill="#9e9eff"/><rect x="241.20" y="639.45" width="23.48" height="20.75" fill="#f6f6ff"/><rect x="194.24" y="660.20" width="23.48" height="20.75" fill="#ff2323"/><rect x="217.72" y="660.20" width="23.48" height="20.75" fill="#ff1212"/><rect x="241.20" y="660.20" width="23.48" height="20.75" fill="#ff3535"/><rect x="170.76" y="680.95" width="23.48" height="20.75" fill="#f6f6ff"/><rect x="194.24" y="680.95" width="23.48" height="20.75" fill="#ff0000"/><rect x="217.72" y="680.95" width="23.48" height="20.75" fill="#ffe5e5"/><rect x="241.20" y="680.95" width="23.48" height="20.75" fill="#ffc1c1"/><rect x="147.28" y="701.70" width="23.48" height="20.75" fill="#ff5858"/><rect x="170.76" y="701.70" width="23.48" height="20.75" fill="#ff2323"/><rect x="194.24" y="701.70" width="23.48" height="20.75" fill="#ff0000"/><rect x="217.72" y="701.70" width="23.48" height="20.75" fill="#ff4646"/><rect x="241.20" y="701.70" width="23.48" height="20.75" fill="#ff0000"/><rect x="123.80" y="722.45" width="23.48" height="20.75" fill="#7b7bff"/><rect x="147.28" y="722.45" width="23.48" height="20.75" fill="#ff2323"/><rect x="170.76" y="722.45" width="23.48" height="20.75" fill="#ffc1c1"/><rect x="194.24" y="722.45" width="23.48" height="20.75" fill="#ff0000"/><rect x="217.72" y="722.45" width="23.48" height="20.75" fill="#d3d3ff"/><rect x="241.20" y="722.45" width="23.48" height="20.75" fill="#b0b0ff"/><rect x="100.32" y="743.20" width="23.48" height="20.75" fill="#3535ff"/><rect x="123.80" y="743.20" width="23.48" height="20.75" fill="#9e9eff"/><rect x="147.28" y="743.20" width="23.48" height="20.75" fill="#ff0000"/><rect x="170.76" y="743.20" width="23.48" height="20.75" fill="#ffd3d3"/><rect x="194.24" y="743.20" width="23.48" height="20.75" fill="#ff4646"/><rect x="217.72" y="743.20" width="23.48" height="20.75" fill="#c1c1ff"/><rect x="241.20" y="743.20" width="23.48" height="20.75" fill="#9e9eff"/><rect x="76.84" y="763.95" width="23.48" height="20.75" fill="#1212ff"/><rect x="100.32" y="763.95" width="23.48" height="20.75" fill="#9e9eff"/><rect x="123.80" y="763.95" width="23.48" height="20.75" fill="#9e9eff"/><rect x="147.28" y="763.95" width="23.48" height="20.75" fill="#ff4646"/><rect x="170.76" y="763.95" width="23.48" height="20.75" fill="#ffd3d3"/><rect x="194.24" y="763.95" width="23.48" height="20.75" fill="#ff3535"/><rect x="217.72" y="763.95" width="23.48" height="20.75" fill="#c1c1ff"/><rect x="241.20" y="763.95" width="23.48" height="20.75" fill="#b0b0ff"/><rect x="53.36" y="784.70" width="23.48" height="20.75" fill="#6a6aff"/><rect x="76.84" y="784.70" width="23.48" height="20.75" fill="#c1c1ff"/><rect x="100.32" y="784.70" width="23.48" height="20.75" fill="#c1c1ff"/><rect x="123.80" y="784.70" width="23.48" height="20.75" fill="#b0b0ff"/><rect x="147.28" y="784.70" width="23.48" height="20.75" fill="#ff3535"/><rect x="170.76" y="784.70" width="23.48" height="20.75" fill="#ffc1c1"/><rect x="194.24" y="784.70" width="23.48" height="20.75" fill="#ff0000"/><rect x="217.72" y="784.70" width="23.48" height="20.75" fill="#c1c1ff"/><rect x="241.20" y="784.70" width="23.48" height="20.75" fill="#f6f6ff"/><rect x="29.88" y="805.45" width="23.48" height="20.75" fill="#d3d3ff"/><rect x="53.36" y="805.45" width="23.48" height="20.75" fill="#ffe5e5"/><rect x="76.84" y="805.45" width="23.48" height="20.75" fill="#ffe5e5"/><rect x="100.32" y="805.45" width="23.48" height="20.75" fill="#fff6f6"/><rect x="123.80" y="805.45" width="23.48" height="20.75" fill="#f6f6ff"/><rect x="147.28" y="805.45" width="23.48" height="20.75" fill="#ff2323"/><rect x="170.76" y="805.45" width="23.48" height="20.75" fill="#ff9e9e"/><rect x="194.24" y="805.45" width="23.48" height="20.75" fill="#ff0000"/><rect x="217.72" y="805.45" width="23.48" height="20.75" fill="#ffd3d3"/><rect x="241.20" y="805.45" width="23.48" height="20.75" fill="#ffe5e5"/><rect x="6.40" y="826.20" width="23.48" height="20.75" fill="#0000ff"/><rect x="29.88" y="826.20" width="23.48" height="20.75" fill="#e5e5ff"/><rect x="53.36" y="826.20" width="23.48" height="20.75" fill="#9e9eff"/><rect x="76.84" y="826.20" width="23.48" height="20.75" fill="#2323ff"/><rect x="100.32" y="826.20" width="23.48" height="20.75" fill="#9e9eff"/><rect x="123.80" y="826.20" width="23.48" height="20.75" fill="#7b7bff"/><rect x="147.28" y="826.20" width="23.48" height="20.75" fill="#ff2323"/><rect x="170.76" y="826.20" width="23.48" height="20.75" fill="#ffb0b0"/><rect x="194.24" y="826.20" width="23.48" height="20.75" fill="#ff4646"/><rect x="217.72" y="826.20" width="23.48" height="20.75" fill="#c1c1ff"/><rect x="241.20" y="826.20" width="23.48" height="20.75" fill="#d3d3ff"/><rect x="6.40" y="846.95" width="23.48" height="20.75" fill="#ffd3d3"/><rect x="29.88" y="846.95" width="23.48" height="20.75" fill="#ffc1c1"/><rect x="53.36" y="846.95" width="23.48" height="20.75" fill="#ffc1c1"/><rect x="76.84" y="846.95" width="23.48" height="20.75" fill="#fff6f6"/><rect x="100.32" y="846.95" width="23.48" height="20.75" fill="#ffe5e5"/><rect x="123.80" y="846.95" width="23.48" height="20.75" fill="#f6f6ff"/><rect x="147.28" y="846.95" width="23.48" height="20.75" fill="#ff1212"/><rect x="170.76" y="846.95" width="23.48" height="20.75" fill="#ffd3d3"/><rect x="194.24" y="846.95" width="23.48" height="20.75" fill="#ff3535"/><rect x="217.72" y="846.95" width="23.48" height="20.75" fill="#ffe5e5"/><rect x="241.20" y="846.95" width="23.48" height="20.75" fill="#f6f6ff"/></g><g font-family="Liberation Serif" text-anchor="middle" stroke-width="0.05"><text transform="translate(252.94,632.36) scale(1,1.07)" fill="#000" stroke="#000" font-size="8.2">0.159</text><text transform="translate(229.46,653.11) scale(1,1.07)" fill="#000" stroke="#000" font-size="8.2">0.188</text><text transform="translate(252.94,653.11) scale(1,1.07)" fill="#000" stroke="#000" font-size="8.2">0.297</text><text transform="translate(205.98,673.86) scale(1,1.07)" fill="#fff" stroke="#fff" font-size="8.2">0.592</text><text transform="translate(229.46,673.86) scale(1,1.07)" fill="#fff" stroke="#fff" font-size="8.2">0.616</text><text transform="translate(252.94,673.86) scale(1,1.07)" fill="#fff" stroke="#fff" font-size="8.2">0.571</text><text transform="translate(182.50,694.61) scale(1,1.07)" fill="#000" stroke="#000" font-size="8.2">0.317</text><text transform="translate(205.98,694.61) scale(1,1.07)" fill="#fff" stroke="#fff" font-size="8.2">0.654</text><text transform="translate(229.46,694.61) scale(1,1.07)" fill="#000" stroke="#000" font-size="8.2">0.347</text><text transform="translate(252.94,694.61) scale(1,1.07)" fill="#000" stroke="#000" font-size="8.2">0.397</text><text transform="translate(159.02,715.36) scale(1,1.07)" fill="#000" stroke="#000" font-size="8.2">0.534</text><text transform="translate(182.50,715.36) scale(1,1.07)" fill="#fff" stroke="#fff" font-size="8.2">0.609</text><text transform="translate(205.98,715.36) scale(1,1.07)" fill="#fff" stroke="#fff" font-size="8.2">0.644</text><text transform="translate(229.46,715.36) scale(1,1.07)" fill="#fff" stroke="#fff" font-size="8.2">0.552</text><text transform="translate(252.94,715.36) scale(1,1.07)" fill="#fff" stroke="#fff" font-size="8.2">0.645</text><text transform="translate(135.54,736.11) scale(1,1.07)" fill="#000" stroke="#000" font-size="8.2">0.148</text><text transform="translate(159.02,736.11) scale(1,1.07)" fill="#fff" stroke="#fff" font-size="8.2">0.596</text><text transform="translate(182.50,736.11) scale(1,1.07)" fill="#000" stroke="#000" font-size="8.2">0.404</text><text transform="translate(205.98,736.11) scale(1,1.07)" fill="#fff" stroke="#fff" font-size="8.2">0.636</text><text transform="translate(229.46,736.11) scale(1,1.07)" fill="#000" stroke="#000" font-size="8.2">0.257</text><text transform="translate(252.94,736.11) scale(1,1.07)" fill="#000" stroke="#000" font-size="8.2">0.217</text><text transform="translate(112.06,756.86) scale(1,1.07)" fill="#fff" stroke="#fff" font-size="8.2">0.07</text><text transform="translate(135.54,756.86) scale(1,1.07)" fill="#000" stroke="#000" font-size="8.2">0.188</text><text transform="translate(159.02,756.86) scale(1,1.07)" fill="#fff" stroke="#fff" font-size="8.2">0.649</text><text transform="translate(182.50,756.86) scale(1,1.07)" fill="#000" stroke="#000" font-size="8.2">0.375</text><text transform="translate(205.98,756.86) scale(1,1.07)" fill="#fff" stroke="#fff" font-size="8.2">0.552</text><text transform="translate(229.46,756.86) scale(1,1.07)" fill="#000" stroke="#000" font-size="8.2">0.242</text><text transform="translate(252.94,756.86) scale(1,1.07)" fill="#000" stroke="#000" font-size="8.2">0.201</text><text transform="translate(88.58,777.61) scale(1,1.07)" fill="#fff" stroke="#fff" font-size="8.2">0.026</text><text transform="translate(112.06,777.61) scale(1,1.07)" fill="#000" stroke="#000" font-size="8.2">0.205</text><text transform="translate(135.54,777.61) scale(1,1.07)" fill="#000" stroke="#000" font-size="8.2">0.202</text><text transform="translate(159.02,777.61) scale(1,1.07)" fill="#fff" stroke="#fff" font-size="8.2">0.553</text><text transform="translate(182.50,777.61) scale(1,1.07)" fill="#000" stroke="#000" font-size="8.2">0.368</text><text transform="translate(205.98,777.61) scale(1,1.07)" fill="#fff" stroke="#fff" font-size="8.2">0.579</text><text transform="translate(229.46,777.61) scale(1,1.07)" fill="#000" stroke="#000" font-size="8.2">0.241</text><text transform="translate(252.94,777.61) scale(1,1.07)" fill="#000" stroke="#000" font-size="8.2">0.222</text><text transform="translate(65.10,798.36) scale(1,1.07)" fill="#fff" stroke="#fff" font-size="8.2">0.138</text><text transform="translate(88.58,798.36) scale(1,1.07)" fill="#000" stroke="#000" font-size="8.2">0.232</text><text transform="translate(112.06,798.36) scale(1,1.07)" fill="#000" stroke="#000" font-size="8.2">0.245</text><text transform="translate(135.54,798.36) scale(1,1.07)" fill="#000" stroke="#000" font-size="8.2">0.213</text><text transform="translate(159.02,798.36) scale(1,1.07)" fill="#fff" stroke="#fff" font-size="8.2">0.577</text><text transform="translate(182.50,798.36) scale(1,1.07)" fill="#000" stroke="#000" font-size="8.2">0.405</text><text transform="translate(205.98,798.36) scale(1,1.07)" fill="#fff" stroke="#fff" font-size="8.2">0.645</text><text transform="translate(229.46,798.36) scale(1,1.07)" fill="#000" stroke="#000" font-size="8.2">0.247</text><text transform="translate(252.94,798.36) scale(1,1.07)" fill="#000" stroke="#000" font-size="8.2">0.302</text><text transform="translate(41.62,819.11) scale(1,1.07)" fill="#000" stroke="#000" font-size="8.2">0.269</text><text transform="translate(65.10,819.11) scale(1,1.07)" fill="#000" stroke="#000" font-size="8.2">0.343</text><text transform="translate(88.58,819.11) scale(1,1.07)" fill="#000" stroke="#000" font-size="8.2">0.353</text><text transform="translate(112.06,819.11) scale(1,1.07)" fill="#000" stroke="#000" font-size="8.2">0.327</text><text transform="translate(135.54,819.11) scale(1,1.07)" fill="#000" stroke="#000" font-size="8.2">0.314</text><text transform="translate(159.02,819.11) scale(1,1.07)" fill="#fff" stroke="#fff" font-size="8.2">0.591</text><text transform="translate(182.50,819.11) scale(1,1.07)" fill="#000" stroke="#000" font-size="8.2">0.443</text><text transform="translate(205.98,819.11) scale(1,1.07)" fill="#fff" stroke="#fff" font-size="8.2">0.637</text><text transform="translate(229.46,819.11) scale(1,1.07)" fill="#000" stroke="#000" font-size="8.2">0.367</text><text transform="translate(252.94,819.11) scale(1,1.07)" fill="#000" stroke="#000" font-size="8.2">0.355</text><text transform="translate(18.14,839.86) scale(1,1.07)" fill="#fff" stroke="#fff" font-size="8.2">-0.015</text><text transform="translate(41.62,839.86) scale(1,1.07)" fill="#000" stroke="#000" font-size="8.2">0.29</text><text transform="translate(65.10,839.86) scale(1,1.07)" fill="#000" stroke="#000" font-size="8.2">0.205</text><text transform="translate(88.58,839.86) scale(1,1.07)" fill="#fff" stroke="#fff" font-size="8.2">0.041</text><text transform="translate(112.06,839.86) scale(1,1.07)" fill="#000" stroke="#000" font-size="8.2">0.19</text><text transform="translate(135.54,839.86) scale(1,1.07)" fill="#000" stroke="#000" font-size="8.2">0.142</text><text transform="translate(159.02,839.86) scale(1,1.07)" fill="#fff" stroke="#fff" font-size="8.2">0.606</text><text transform="translate(182.50,839.86) scale(1,1.07)" fill="#000" stroke="#000" font-size="8.2">0.43</text><text transform="translate(205.98,839.86) scale(1,1.07)" fill="#fff" stroke="#fff" font-size="8.2">0.56</text><text transform="translate(229.46,839.86) scale(1,1.07)" fill="#000" stroke="#000" font-size="8.2">0.244</text><text transform="translate(252.94,839.86) scale(1,1.07)" fill="#000" stroke="#000" font-size="8.2">0.258</text><text transform="translate(18.14,860.61) scale(1,1.07)" fill="#000" stroke="#000" font-size="8.2">0.366</text><text transform="translate(41.62,860.61) scale(1,1.07)" fill="#000" stroke="#000" font-size="8.2">0.402</text><text transform="translate(65.10,860.61) scale(1,1.07)" fill="#000" stroke="#000" font-size="8.2">0.4</text><text transform="translate(88.58,860.61) scale(1,1.07)" fill="#000" stroke="#000" font-size="8.2">0.327</text><text transform="translate(112.06,860.61) scale(1,1.07)" fill="#000" stroke="#000" font-size="8.2">0.348</text><text transform="translate(135.54,860.61) scale(1,1.07)" fill="#000" stroke="#000" font-size="8.2">0.319</text><text transform="translate(159.02,860.61) scale(1,1.07)" fill="#fff" stroke="#fff" font-size="8.2">0.629</text><text transform="translate(182.50,860.61) scale(1,1.07)" fill="#000" stroke="#000" font-size="8.2">0.379</text><text transform="translate(205.98,860.61) scale(1,1.07)" fill="#fff" stroke="#fff" font-size="8.2">0.566</text><text transform="translate(229.46,860.61) scale(1,1.07)" fill="#000" stroke="#000" font-size="8.2">0.352</text><text transform="translate(252.94,860.61) scale(1,1.07)" fill="#000" stroke="#000" font-size="8.2">0.315</text></g><g font-family="Liberation Serif" text-anchor="middle" font-size="8.0" fill="#000" stroke="#000" stroke-width="0.03"><text transform="translate(276.48,632.29) scale(1,1.07)">X12</text><text transform="translate(276.48,653.04) scale(1,1.07)">X11</text><text transform="translate(276.48,673.79) scale(1,1.07)">X10</text><text transform="translate(276.48,694.54) scale(1,1.07)">X9</text><text transform="translate(276.48,715.29) scale(1,1.07)">X8</text><text transform="translate(276.48,736.04) scale(1,1.07)">X7</text><text transform="translate(276.48,756.79) scale(1,1.07)">X6</text><text transform="translate(276.48,777.54) scale(1,1.07)">X5</text><text transform="translate(276.48,798.29) scale(1,1.07)">X4</text><text transform="translate(276.48,819.04) scale(1,1.07)">X3</text><text transform="translate(276.48,839.79) scale(1,1.07)">X2</text><text transform="translate(276.48,860.54) scale(1,1.07)">X1</text><text transform="translate(18.14,881.71) scale(1,1.07)">X2</text><text transform="translate(41.62,881.71) scale(1,1.07)">X3</text><text transform="translate(65.10,881.71) scale(1,1.07)">X4</text><text transform="translate(88.58,881.71) scale(1,1.07)">X5</text><text transform="translate(112.06,881.71) scale(1,1.07)">X6</text><text transform="translate(135.54,881.71) scale(1,1.07)">X7</text><text transform="translate(159.02,881.71) scale(1,1.07)">X8</text><text transform="translate(182.50,881.71) scale(1,1.07)">X9</text><text transform="translate(205.98,881.71) scale(1,1.07)">X10</text><text transform="translate(229.46,881.71) scale(1,1.07)">X11</text><text transform="translate(252.94,881.71) scale(1,1.07)">X12</text></g><g shape-rendering="crispEdges"><rect x="286.20" y="875.90" width="19.90" height="9.02" fill="#0000ff"/><rect x="286.20" y="866.91" width="19.90" height="9.02" fill="#1212ff"/><rect x="286.20" y="857.91" width="19.90" height="9.02" fill="#2323ff"/><rect x="286.20" y="848.91" width="19.90" height="9.02" fill="#3535ff"/><rect x="286.20" y="839.92" width="19.90" height="9.02" fill="#4646ff"/><rect x="286.20" y="830.92" width="19.90" height="9.02" fill="#5858ff"/><rect x="286.20" y="821.92" width="19.90" height="9.02" fill="#6a6aff"/><rect x="286.20" y="812.93" width="19.90" height="9.02" fill="#7b7bff"/><rect x="286.20" y="803.93" width="19.90" height="9.02" fill="#8d8dff"/><rect x="286.20" y="794.93" width="19.90" height="9.02" fill="#9e9eff"/><rect x="286.20" y="785.94" width="19.90" height="9.02" fill="#b0b0ff"/><rect x="286.20" y="776.94" width="19.90" height="9.02" fill="#c1c1ff"/><rect x="286.20" y="767.94" width="19.90" height="9.02" fill="#d3d3ff"/><rect x="286.20" y="758.95" width="19.90" height="9.02" fill="#e5e5ff"/><rect x="286.20" y="749.95" width="19.90" height="9.02" fill="#f6f6ff"/><rect x="286.20" y="740.95" width="19.90" height="9.02" fill="#fff6f6"/><rect x="286.20" y="731.96" width="19.90" height="9.02" fill="#ffe5e5"/><rect x="286.20" y="722.96" width="19.90" height="9.02" fill="#ffd3d3"/><rect x="286.20" y="713.96" width="19.90" height="9.02" fill="#ffc1c1"/><rect x="286.20" y="704.97" width="19.90" height="9.02" fill="#ffb0b0"/><rect x="286.20" y="695.97" width="19.90" height="9.02" fill="#ff9e9e"/><rect x="286.20" y="686.97" width="19.90" height="9.02" fill="#ff8d8d"/><rect x="286.20" y="677.98" width="19.90" height="9.02" fill="#ff7b7b"/><rect x="286.20" y="668.98" width="19.90" height="9.02" fill="#ff6a6a"/><rect x="286.20" y="659.98" width="19.90" height="9.02" fill="#ff5858"/><rect x="286.20" y="650.99" width="19.90" height="9.02" fill="#ff4646"/><rect x="286.20" y="641.99" width="19.90" height="9.02" fill="#ff3535"/><rect x="286.20" y="632.99" width="19.90" height="9.02" fill="#ff2323"/><rect x="286.20" y="624.00" width="19.90" height="9.02" fill="#ff1212"/><rect x="286.20" y="615.00" width="19.90" height="9.02" fill="#ff0000"/></g><rect x="286.70" y="615.50" width="18.90" height="268.90" fill="none" stroke="#000" stroke-opacity="0.7" stroke-width="1"/><g font-family="Liberation Serif" font-size="6.8" fill="#222"><line x1="306.10" y1="615.00" x2="311.10" y2="615.00" stroke="#555" stroke-width="0.9"/><text transform="translate(313.30,617.61) scale(1,1.0)">0.6540</text><line x1="306.10" y1="668.98" x2="311.10" y2="668.98" stroke="#555" stroke-width="0.9"/><text transform="translate(313.30,671.59) scale(1,1.0)">0.5200</text><line x1="306.10" y1="722.96" x2="311.10" y2="722.96" stroke="#555" stroke-width="0.9"/><text transform="translate(313.30,725.57) scale(1,1.0)">0.3860</text><line x1="306.10" y1="776.94" x2="311.10" y2="776.94" stroke="#555" stroke-width="0.9"/><text transform="translate(313.30,779.55) scale(1,1.0)">0.2520</text><line x1="306.10" y1="830.92" x2="311.10" y2="830.92" stroke="#555" stroke-width="0.9"/><text transform="translate(313.30,833.53) scale(1,1.0)">0.1180</text><line x1="306.10" y1="884.90" x2="311.10" y2="884.90" stroke="#555" stroke-width="0.9"/><text transform="translate(313.30,887.51) scale(1,1.0)">-0.01600</text></g><text x="147.50" y="900.36" font-family="Liberation Serif" font-size="14" text-anchor="middle" fill="#2a2a2a">2020</text><g shape-rendering="crispEdges"><rect x="579.50" y="618.20" width="23.46" height="20.79" fill="#7b7bff"/><rect x="556.04" y="638.99" width="23.46" height="20.79" fill="#6a6aff"/><rect x="579.50" y="638.99" width="23.46" height="20.79" fill="#c1c1ff"/><rect x="532.58" y="659.78" width="23.46" height="20.79" fill="#ff4646"/><rect x="556.04" y="659.78" width="23.46" height="20.79" fill="#ff3535"/><rect x="579.50" y="659.78" width="23.46" height="20.79" fill="#ff3535"/><rect x="509.12" y="680.57" width="23.46" height="20.79" fill="#f6f6ff"/><rect x="532.58" y="680.57" width="23.46" height="20.79" fill="#ff2323"/><rect x="556.04" y="680.57" width="23.46" height="20.79" fill="#ffe5e5"/><rect x="579.50" y="680.57" width="23.46" height="20.79" fill="#ffd3d3"/><rect x="485.66" y="701.36" width="23.46" height="20.79" fill="#ff5858"/><rect x="509.12" y="701.36" width="23.46" height="20.79" fill="#ff2323"/><rect x="532.58" y="701.36" width="23.46" height="20.79" fill="#ff0000"/><rect x="556.04" y="701.36" width="23.46" height="20.79" fill="#ff3535"/><rect x="579.50" y="701.36" width="23.46" height="20.79" fill="#ff3535"/><rect x="462.20" y="722.15" width="23.46" height="20.79" fill="#4646ff"/><rect x="485.66" y="722.15" width="23.46" height="20.79" fill="#ff3535"/><rect x="509.12" y="722.15" width="23.46" height="20.79" fill="#ffe5e5"/><rect x="532.58" y="722.15" width="23.46" height="20.79" fill="#ff3535"/><rect x="556.04" y="722.15" width="23.46" height="20.79" fill="#9e9eff"/><rect x="579.50" y="722.15" width="23.46" height="20.79" fill="#b0b0ff"/><rect x="438.74" y="742.94" width="23.46" height="20.79" fill="#2323ff"/><rect x="462.20" y="742.94" width="23.46" height="20.79" fill="#6a6aff"/><rect x="485.66" y="742.94" width="23.46" height="20.79" fill="#ff3535"/><rect x="509.12" y="742.94" width="23.46" height="20.79" fill="#ffd3d3"/><rect x="532.58" y="742.94" width="23.46" height="20.79" fill="#ff3535"/><rect x="556.04" y="742.94" width="23.46" height="20.79" fill="#9e9eff"/><rect x="579.50" y="742.94" width="23.46" height="20.79" fill="#9e9eff"/><rect x="415.28" y="763.73" width="23.46" height="20.79" fill="#1212ff"/><rect x="438.74" y="763.73" width="23.46" height="20.79" fill="#6a6aff"/><rect x="462.20" y="763.73" width="23.46" height="20.79" fill="#6a6aff"/><rect x="485.66" y="763.73" width="23.46" height="20.79" fill="#ff4646"/><rect x="509.12" y="763.73" width="23.46" height="20.79" fill="#ffe5e5"/><rect x="532.58" y="763.73" width="23.46" height="20.79" fill="#ff3535"/><rect x="556.04" y="763.73" width="23.46" height="20.79" fill="#8d8dff"/><rect x="579.50" y="763.73" width="23.46" height="20.79" fill="#9e9eff"/><rect x="391.82" y="784.52" width="23.46" height="20.79" fill="#5858ff"/><rect x="415.28" y="784.52" width="23.46" height="20.79" fill="#8d8dff"/><rect x="438.74" y="784.52" width="23.46" height="20.79" fill="#c1c1ff"/><rect x="462.20" y="784.52" width="23.46" height="20.79" fill="#b0b0ff"/><rect x="485.66" y="784.52" width="23.46" height="20.79" fill="#ff4646"/><rect x="509.12" y="784.52" width="23.46" height="20.79" fill="#ffe5e5"/><rect x="532.58" y="784.52" width="23.46" height="20.79" fill="#ff3535"/><rect x="556.04" y="784.52" width="23.46" height="20.79" fill="#c1c1ff"/><rect x="579.50" y="784.52" width="23.46" height="20.79" fill="#e5e5ff"/><rect x="368.36" y="805.31" width="23.46" height="20.79" fill="#c1c1ff"/><rect x="391.82" y="805.31" width="23.46" height="20.79" fill="#fff6f6"/><rect x="415.28" y="805.31" width="23.46" height="20.79" fill="#e5e5ff"/><rect x="438.74" y="805.31" width="23.46" height="20.79" fill="#f6f6ff"/><rect x="462.20" y="805.31" width="23.46" height="20.79" fill="#e5e5ff"/><rect x="485.66" y="805.31" width="23.46" height="20.79" fill="#ff1212"/><rect x="509.12" y="805.31" width="23.46" height="20.79" fill="#ffc1c1"/><rect x="532.58" y="805.31" width="23.46" height="20.79" fill="#ff2323"/><rect x="556.04" y="805.31" width="23.46" height="20.79" fill="#f6f6ff"/><rect x="579.50" y="805.31" width="23.46" height="20.79" fill="#fff6f6"/><rect x="344.90" y="826.10" width="23.46" height="20.79" fill="#0000ff"/><rect x="368.36" y="826.10" width="23.46" height="20.79" fill="#f6f6ff"/><rect x="391.82" y="826.10" width="23.46" height="20.79" fill="#b0b0ff"/><rect x="415.28" y="826.10" width="23.46" height="20.79" fill="#3535ff"/><rect x="438.74" y="826.10" width="23.46" height="20.79" fill="#6a6aff"/><rect x="462.20" y="826.10" width="23.46" height="20.79" fill="#7b7bff"/><rect x="485.66" y="826.10" width="23.46" height="20.79" fill="#ff4646"/><rect x="509.12" y="826.10" width="23.46" height="20.79" fill="#ffd3d3"/><rect x="532.58" y="826.10" width="23.46" height="20.79" fill="#ff3535"/><rect x="556.04" y="826.10" width="23.46" height="20.79" fill="#9e9eff"/><rect x="579.50" y="826.10" width="23.46" height="20.79" fill="#b0b0ff"/><rect x="344.90" y="846.89" width="23.46" height="20.79" fill="#f6f6ff"/><rect x="368.36" y="846.89" width="23.46" height="20.79" fill="#ffd3d3"/><rect x="391.82" y="846.89" width="23.46" height="20.79" fill="#ffe5e5"/><rect x="415.28" y="846.89" width="23.46" height="20.79" fill="#f6f6ff"/><rect x="438.74" y="846.89" width="23.46" height="20.79" fill="#e5e5ff"/><rect x="462.20" y="846.89" width="23.46" height="20.79" fill="#f6f6ff"/><rect x="485.66" y="846.89" width="23.46" height="20.79" fill="#ff2323"/><rect x="509.12" y="846.89" width="23.46" height="20.79" fill="#ffc1c1"/><rect x="532.58" y="846.89" width="23.46" height="20.79" fill="#ff3535"/><rect x="556.04" y="846.89" width="23.46" height="20.79" fill="#f6f6ff"/><rect x="579.50" y="846.89" width="23.46" height="20.79" fill="#fff6f6"/></g><g font-family="Liberation Serif" text-anchor="middle" stroke-width="0.05"><text transform="translate(591.23,632.21) scale(1,1.07)" fill="#000" stroke="#000" font-size="9.1">0.19</text><text transform="translate(567.77,653.00) scale(1,1.07)" fill="#fff" stroke="#fff" font-size="9.1">0.163</text><text transform="translate(591.23,653.00) scale(1,1.07)" fill="#000" stroke="#000" font-size="9.1">0.268</text><text transform="translate(544.31,673.79) scale(1,1.07)" fill="#fff" stroke="#fff" font-size="9.1">0.584</text><text transform="translate(567.77,673.79) scale(1,1.07)" fill="#fff" stroke="#fff" font-size="9.1">0.609</text><text transform="translate(591.23,673.79) scale(1,1.07)" fill="#fff" stroke="#fff" font-size="9.1">0.605</text><text transform="translate(520.85,694.58) scale(1,1.07)" fill="#000" stroke="#000" font-size="9.1">0.343</text><text transform="translate(544.31,694.58) scale(1,1.07)" fill="#fff" stroke="#fff" font-size="9.1">0.631</text><text transform="translate(567.77,694.58) scale(1,1.07)" fill="#000" stroke="#000" font-size="9.1">0.382</text><text transform="translate(591.23,694.58) scale(1,1.07)" fill="#000" stroke="#000" font-size="9.1">0.397</text><text transform="translate(497.39,715.37) scale(1,1.07)" fill="#000" stroke="#000" font-size="9.1">0.553</text><text transform="translate(520.85,715.37) scale(1,1.07)" fill="#fff" stroke="#fff" font-size="9.1">0.63</text><text transform="translate(544.31,715.37) scale(1,1.07)" fill="#fff" stroke="#fff" font-size="9.1">0.679</text><text transform="translate(567.77,715.37) scale(1,1.07)" fill="#fff" stroke="#fff" font-size="9.1">0.596</text><text transform="translate(591.23,715.37) scale(1,1.07)" fill="#fff" stroke="#fff" font-size="9.1">0.608</text><text transform="translate(473.93,736.16) scale(1,1.07)" fill="#fff" stroke="#fff" font-size="9.1">0.105</text><text transform="translate(497.39,736.16) scale(1,1.07)" fill="#fff" stroke="#fff" font-size="9.1">0.592</text><text transform="translate(520.85,736.16) scale(1,1.07)" fill="#000" stroke="#000" font-size="9.1">0.388</text><text transform="translate(544.31,736.16) scale(1,1.07)" fill="#fff" stroke="#fff" font-size="9.1">0.594</text><text transform="translate(567.77,736.16) scale(1,1.07)" fill="#000" stroke="#000" font-size="9.1">0.221</text><text transform="translate(591.23,736.16) scale(1,1.07)" fill="#000" stroke="#000" font-size="9.1">0.243</text><text transform="translate(450.47,756.95) scale(1,1.07)" fill="#fff" stroke="#fff" font-size="9.1">0.077</text><text transform="translate(473.93,756.95) scale(1,1.07)" fill="#fff" stroke="#fff" font-size="9.1">0.159</text><text transform="translate(497.39,756.95) scale(1,1.07)" fill="#fff" stroke="#fff" font-size="9.1">0.601</text><text transform="translate(520.85,756.95) scale(1,1.07)" fill="#000" stroke="#000" font-size="9.1">0.398</text><text transform="translate(544.31,756.95) scale(1,1.07)" fill="#fff" stroke="#fff" font-size="9.1">0.593</text><text transform="translate(567.77,756.95) scale(1,1.07)" fill="#000" stroke="#000" font-size="9.1">0.216</text><text transform="translate(591.23,756.95) scale(1,1.07)" fill="#000" stroke="#000" font-size="9.1">0.228</text><text transform="translate(427.01,777.74) scale(1,1.07)" fill="#fff" stroke="#fff" font-size="9.1">0.052</text><text transform="translate(450.47,777.74) scale(1,1.07)" fill="#fff" stroke="#fff" font-size="9.1">0.156</text><text transform="translate(473.93,777.74) scale(1,1.07)" fill="#fff" stroke="#fff" font-size="9.1">0.165</text><text transform="translate(497.39,777.74) scale(1,1.07)" fill="#fff" stroke="#fff" font-size="9.1">0.583</text><text transform="translate(520.85,777.74) scale(1,1.07)" fill="#000" stroke="#000" font-size="9.1">0.377</text><text transform="translate(544.31,777.74) scale(1,1.07)" fill="#fff" stroke="#fff" font-size="9.1">0.598</text><text transform="translate(567.77,777.74) scale(1,1.07)" fill="#000" stroke="#000" font-size="9.1">0.21</text><text transform="translate(591.23,777.74) scale(1,1.07)" fill="#000" stroke="#000" font-size="9.1">0.237</text><text transform="translate(403.55,798.53) scale(1,1.07)" fill="#fff" stroke="#fff" font-size="9.1">0.138</text><text transform="translate(427.01,798.53) scale(1,1.07)" fill="#000" stroke="#000" font-size="9.1">0.205</text><text transform="translate(450.47,798.53) scale(1,1.07)" fill="#000" stroke="#000" font-size="9.1">0.273</text><text transform="translate(473.93,798.53) scale(1,1.07)" fill="#000" stroke="#000" font-size="9.1">0.242</text><text transform="translate(497.39,798.53) scale(1,1.07)" fill="#fff" stroke="#fff" font-size="9.1">0.587</text><text transform="translate(520.85,798.53) scale(1,1.07)" fill="#000" stroke="#000" font-size="9.1">0.377</text><text transform="translate(544.31,798.53) scale(1,1.07)" fill="#fff" stroke="#fff" font-size="9.1">0.613</text><text transform="translate(567.77,798.53) scale(1,1.07)" fill="#000" stroke="#000" font-size="9.1">0.273</text><text transform="translate(591.23,798.53) scale(1,1.07)" fill="#000" stroke="#000" font-size="9.1">0.311</text><text transform="translate(380.09,819.32) scale(1,1.07)" fill="#000" stroke="#000" font-size="9.1">0.264</text><text transform="translate(403.55,819.32) scale(1,1.07)" fill="#000" stroke="#000" font-size="9.1">0.367</text><text transform="translate(427.01,819.32) scale(1,1.07)" fill="#000" stroke="#000" font-size="9.1">0.317</text><text transform="translate(450.47,819.32) scale(1,1.07)" fill="#000" stroke="#000" font-size="9.1">0.327</text><text transform="translate(473.93,819.32) scale(1,1.07)" fill="#000" stroke="#000" font-size="9.1">0.319</text><text transform="translate(497.39,819.32) scale(1,1.07)" fill="#fff" stroke="#fff" font-size="9.1">0.636</text><text transform="translate(520.85,819.32) scale(1,1.07)" fill="#000" stroke="#000" font-size="9.1">0.435</text><text transform="translate(544.31,819.32) scale(1,1.07)" fill="#fff" stroke="#fff" font-size="9.1">0.626</text><text transform="translate(567.77,819.32) scale(1,1.07)" fill="#000" stroke="#000" font-size="9.1">0.344</text><text transform="translate(591.23,819.32) scale(1,1.07)" fill="#000" stroke="#000" font-size="9.1">0.363</text><text transform="translate(356.63,840.11) scale(1,1.07)" fill="#fff" stroke="#fff" font-size="9.1">0.018</text><text transform="translate(380.09,840.11) scale(1,1.07)" fill="#000" stroke="#000" font-size="9.1">0.332</text><text transform="translate(403.55,840.11) scale(1,1.07)" fill="#000" stroke="#000" font-size="9.1">0.238</text><text transform="translate(427.01,840.11) scale(1,1.07)" fill="#fff" stroke="#fff" font-size="9.1">0.085</text><text transform="translate(450.47,840.11) scale(1,1.07)" fill="#fff" stroke="#fff" font-size="9.1">0.168</text><text transform="translate(473.93,840.11) scale(1,1.07)" fill="#000" stroke="#000" font-size="9.1">0.173</text><text transform="translate(497.39,840.11) scale(1,1.07)" fill="#fff" stroke="#fff" font-size="9.1">0.589</text><text transform="translate(520.85,840.11) scale(1,1.07)" fill="#000" stroke="#000" font-size="9.1">0.393</text><text transform="translate(544.31,840.11) scale(1,1.07)" fill="#fff" stroke="#fff" font-size="9.1">0.597</text><text transform="translate(567.77,840.11) scale(1,1.07)" fill="#000" stroke="#000" font-size="9.1">0.225</text><text transform="translate(591.23,840.11) scale(1,1.07)" fill="#000" stroke="#000" font-size="9.1">0.247</text><text transform="translate(356.63,860.90) scale(1,1.07)" fill="#000" stroke="#000" font-size="9.1">0.342</text><text transform="translate(380.09,860.90) scale(1,1.07)" fill="#000" stroke="#000" font-size="9.1">0.409</text><text transform="translate(403.55,860.90) scale(1,1.07)" fill="#000" stroke="#000" font-size="9.1">0.374</text><text transform="translate(427.01,860.90) scale(1,1.07)" fill="#000" stroke="#000" font-size="9.1">0.337</text><text transform="translate(450.47,860.90) scale(1,1.07)" fill="#000" stroke="#000" font-size="9.1">0.321</text><text transform="translate(473.93,860.90) scale(1,1.07)" fill="#000" stroke="#000" font-size="9.1">0.333</text><text transform="translate(497.39,860.90) scale(1,1.07)" fill="#fff" stroke="#fff" font-size="9.1">0.623</text><text transform="translate(520.85,860.90) scale(1,1.07)" fill="#000" stroke="#000" font-size="9.1">0.422</text><text transform="translate(544.31,860.90) scale(1,1.07)" fill="#fff" stroke="#fff" font-size="9.1">0.602</text><text transform="translate(567.77,860.90) scale(1,1.07)" fill="#000" stroke="#000" font-size="9.1">0.342</text><text transform="translate(591.23,860.90) scale(1,1.07)" fill="#000" stroke="#000" font-size="9.1">0.356</text></g><g font-family="Liberation Serif" text-anchor="middle" font-size="8.7" fill="#000" stroke="#000" stroke-width="0.03"><text transform="translate(614.76,632.06) scale(1,1.07)">X12</text><text transform="translate(614.76,652.85) scale(1,1.07)">X11</text><text transform="translate(614.76,673.64) scale(1,1.07)">X10</text><text transform="translate(614.76,694.43) scale(1,1.07)">X9</text><text transform="translate(614.76,715.22) scale(1,1.07)">X8</text><text transform="translate(614.76,736.01) scale(1,1.07)">X7</text><text transform="translate(614.76,756.80) scale(1,1.07)">X6</text><text transform="translate(614.76,777.59) scale(1,1.07)">X5</text><text transform="translate(614.76,798.38) scale(1,1.07)">X4</text><text transform="translate(614.76,819.17) scale(1,1.07)">X3</text><text transform="translate(614.76,839.96) scale(1,1.07)">X2</text><text transform="translate(614.76,860.75) scale(1,1.07)">X1</text><text transform="translate(356.63,881.95) scale(1,1.07)">X2</text><text transform="translate(380.09,881.95) scale(1,1.07)">X3</text><text transform="translate(403.55,881.95) scale(1,1.07)">X4</text><text transform="translate(427.01,881.95) scale(1,1.07)">X5</text><text transform="translate(450.47,881.95) scale(1,1.07)">X6</text><text transform="translate(473.93,881.95) scale(1,1.07)">X7</text><text transform="translate(497.39,881.95) scale(1,1.07)">X8</text><text transform="translate(520.85,881.95) scale(1,1.07)">X9</text><text transform="translate(544.31,881.95) scale(1,1.07)">X10</text><text transform="translate(567.77,881.95) scale(1,1.07)">X11</text><text transform="translate(591.23,881.95) scale(1,1.07)">X12</text></g><g shape-rendering="crispEdges"><rect x="626.50" y="873.68" width="19.70" height="9.04" fill="#0000ff"/><rect x="626.50" y="864.67" width="19.70" height="9.04" fill="#1212ff"/><rect x="626.50" y="855.65" width="19.70" height="9.04" fill="#2323ff"/><rect x="626.50" y="846.63" width="19.70" height="9.04" fill="#3535ff"/><rect x="626.50" y="837.62" width="19.70" height="9.04" fill="#4646ff"/><rect x="626.50" y="828.60" width="19.70" height="9.04" fill="#5858ff"/><rect x="626.50" y="819.58" width="19.70" height="9.04" fill="#6a6aff"/><rect x="626.50" y="810.57" width="19.70" height="9.04" fill="#7b7bff"/><rect x="626.50" y="801.55" width="19.70" height="9.04" fill="#8d8dff"/><rect x="626.50" y="792.53" width="19.70" height="9.04" fill="#9e9eff"/><rect x="626.50" y="783.52" width="19.70" height="9.04" fill="#b0b0ff"/><rect x="626.50" y="774.50" width="19.70" height="9.04" fill="#c1c1ff"/><rect x="626.50" y="765.48" width="19.70" height="9.04" fill="#d3d3ff"/><rect x="626.50" y="756.47" width="19.70" height="9.04" fill="#e5e5ff"/><rect x="626.50" y="747.45" width="19.70" height="9.04" fill="#f6f6ff"/><rect x="626.50" y="738.43" width="19.70" height="9.04" fill="#fff6f6"/><rect x="626.50" y="729.42" width="19.70" height="9.04" fill="#ffe5e5"/><rect x="626.50" y="720.40" width="19.70" height="9.04" fill="#ffd3d3"/><rect x="626.50" y="711.38" width="19.70" height="9.04" fill="#ffc1c1"/><rect x="626.50" y="702.37" width="19.70" height="9.04" fill="#ffb0b0"/><rect x="626.50" y="693.35" width="19.70" height="9.04" fill="#ff9e9e"/><rect x="626.50" y="684.33" width="19.70" height="9.04" fill="#ff8d8d"/><rect x="626.50" y="675.32" width="19.70" height="9.04" fill="#ff7b7b"/><rect x="626.50" y="666.30" width="19.70" height="9.04" fill="#ff6a6a"/><rect x="626.50" y="657.28" width="19.70" height="9.04" fill="#ff5858"/><rect x="626.50" y="648.27" width="19.70" height="9.04" fill="#ff4646"/><rect x="626.50" y="639.25" width="19.70" height="9.04" fill="#ff3535"/><rect x="626.50" y="630.23" width="19.70" height="9.04" fill="#ff2323"/><rect x="626.50" y="621.22" width="19.70" height="9.04" fill="#ff1212"/><rect x="626.50" y="612.20" width="19.70" height="9.04" fill="#ff0000"/></g><rect x="627.00" y="612.70" width="18.70" height="269.50" fill="none" stroke="#000" stroke-opacity="0.7" stroke-width="1"/><g font-family="Liberation Serif" font-size="6.8" fill="#222"><line x1="646.20" y1="612.20" x2="651.20" y2="612.20" stroke="#555" stroke-width="0.9"/><text transform="translate(653.40,614.81) scale(1,1.0)">0.6800</text><line x1="646.20" y1="666.30" x2="651.20" y2="666.30" stroke="#555" stroke-width="0.9"/><text transform="translate(653.40,668.91) scale(1,1.0)">0.5472</text><line x1="646.20" y1="720.40" x2="651.20" y2="720.40" stroke="#555" stroke-width="0.9"/><text transform="translate(653.40,723.01) scale(1,1.0)">0.4144</text><line x1="646.20" y1="774.50" x2="651.20" y2="774.50" stroke="#555" stroke-width="0.9"/><text transform="translate(653.40,777.11) scale(1,1.0)">0.2816</text><line x1="646.20" y1="828.60" x2="651.20" y2="828.60" stroke="#555" stroke-width="0.9"/><text transform="translate(653.40,831.21) scale(1,1.0)">0.1488</text><line x1="646.20" y1="882.70" x2="651.20" y2="882.70" stroke="#555" stroke-width="0.9"/><text transform="translate(653.40,885.31) scale(1,1.0)">0.01600</text></g><text x="485.10" y="899.16" font-family="Liberation Serif" font-size="14" text-anchor="middle" fill="#2a2a2a">2023</text></g></svg>
</body></html>
